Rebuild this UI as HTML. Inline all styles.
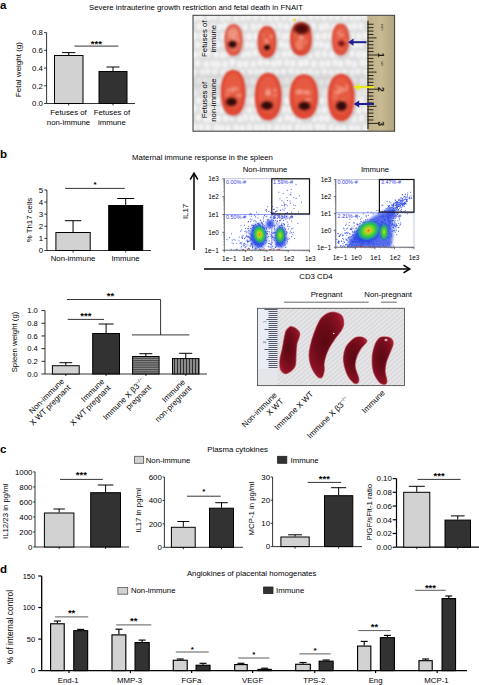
<!DOCTYPE html><html><head><meta charset="utf-8"><style>html,body{margin:0;padding:0;background:#fff;}svg{display:block;}</style></head><body>
<svg width="479" height="685" viewBox="0 0 479 685" font-family='"Liberation Sans", sans-serif'>
<defs>
<linearGradient id="paper" x1="0" y1="0" x2="0" y2="1"><stop offset="0" stop-color="#e2e2e2"/><stop offset="0.5" stop-color="#d8d8d8"/><stop offset="1" stop-color="#e0e0e0"/></linearGradient>
<radialGradient id="fet" cx="0.5" cy="0.5" r="0.5"><stop offset="0" stop-color="#dc3c28"/><stop offset="0.55" stop-color="#e24a34"/><stop offset="0.85" stop-color="#ec6a52"/><stop offset="1" stop-color="#f09a88"/></radialGradient>
<radialGradient id="spot" cx="0.5" cy="0.5" r="0.5"><stop offset="0" stop-color="#1e0808"/><stop offset="0.6" stop-color="#4a1010"/><stop offset="1" stop-color="#a02818" stop-opacity="0"/></radialGradient>
<radialGradient id="darkspot" cx="0.5" cy="0.5" r="0.5"><stop offset="0" stop-color="#3a0808"/><stop offset="0.6" stop-color="#6a1410"/><stop offset="1" stop-color="#b02818" stop-opacity="0"/></radialGradient>
<linearGradient id="ruler" x1="0" y1="0" x2="1" y2="0"><stop offset="0" stop-color="#beb08a"/><stop offset="0.5" stop-color="#c8ba92"/><stop offset="1" stop-color="#b2a47c"/></linearGradient>
<radialGradient id="fcore" cx="0.5" cy="0.5" r="0.5"><stop offset="0" stop-color="#e86020"/><stop offset="0.15" stop-color="#e8c020"/><stop offset="0.35" stop-color="#90d828"/><stop offset="0.6" stop-color="#30c840"/><stop offset="0.85" stop-color="#20a8a0" stop-opacity="0.7"/><stop offset="1" stop-color="#2848e0" stop-opacity="0"/></radialGradient>
<pattern id="hstripe" width="4" height="1.8" patternUnits="userSpaceOnUse"><rect width="4" height="1.8" fill="#8a8a8a"/><rect width="4" height="0.9" fill="#4a4a4a"/></pattern>
<pattern id="vstripe" width="3" height="4" patternUnits="userSpaceOnUse"><rect width="3" height="4" fill="#8c8c8c"/><rect width="1" height="4" fill="#2e2e2e"/></pattern>
<pattern id="stripes" width="3.4" height="3.4" patternUnits="userSpaceOnUse" patternTransform="rotate(-40)"><rect width="3.4" height="3.4" fill="#e6e6e8"/><rect width="3.4" height="1.4" fill="#d8d8dc"/></pattern>
<radialGradient id="spl" cx="0.45" cy="0.45" r="0.6"><stop offset="0" stop-color="#5a0812"/><stop offset="0.5" stop-color="#700c1a"/><stop offset="0.85" stop-color="#8a1222"/><stop offset="1" stop-color="#a41c2e"/></radialGradient>
<filter id="bl1" x="-10%" y="-10%" width="120%" height="120%"><feGaussianBlur stdDeviation="1"/></filter>
<filter id="bl05" x="-20%" y="-20%" width="140%" height="140%"><feGaussianBlur stdDeviation="0.6"/></filter>
<radialGradient id="spot2" cx="0.5" cy="0.5" r="0.5"><stop offset="0" stop-color="#6a1410"/><stop offset="0.6" stop-color="#901c14"/><stop offset="1" stop-color="#c03020" stop-opacity="0"/></radialGradient>
<filter id="bl15" x="-30%" y="-30%" width="160%" height="160%"><feGaussianBlur stdDeviation="1.5"/></filter>
<radialGradient id="fcore2" cx="0.5" cy="0.5" r="0.5"><stop offset="0" stop-color="#b8e020"/><stop offset="0.35" stop-color="#50d030"/><stop offset="0.7" stop-color="#20b070" stop-opacity="0.8"/><stop offset="1" stop-color="#2848e0" stop-opacity="0"/></radialGradient>

<filter id="bl07" x="-20%" y="-20%" width="140%" height="140%"><feGaussianBlur stdDeviation="0.8"/></filter>

</defs>
<rect width="479" height="685" fill="#fff"/>
<text x="0.00" y="9.40" font-size="11.5" text-anchor="start" fill="#000" font-weight="bold">a</text>
<text x="196.00" y="9.80" font-size="7.8" text-anchor="middle" fill="#000">Severe intrauterine growth restriction and fetal death in FNAIT</text>
<line x1="46.60" y1="32.60" x2="46.60" y2="103.50" stroke="#000" stroke-width="0.8"/>
<line x1="44.10" y1="32.60" x2="46.60" y2="32.60" stroke="#000" stroke-width="0.8"/>
<text x="42.90" y="35.41" font-size="7.8" text-anchor="end" fill="#000">0.8</text>
<line x1="44.10" y1="50.33" x2="46.60" y2="50.33" stroke="#000" stroke-width="0.8"/>
<text x="42.90" y="53.13" font-size="7.8" text-anchor="end" fill="#000">0.6</text>
<line x1="44.10" y1="68.05" x2="46.60" y2="68.05" stroke="#000" stroke-width="0.8"/>
<text x="42.90" y="70.86" font-size="7.8" text-anchor="end" fill="#000">0.4</text>
<line x1="44.10" y1="85.78" x2="46.60" y2="85.78" stroke="#000" stroke-width="0.8"/>
<text x="42.90" y="88.58" font-size="7.8" text-anchor="end" fill="#000">0.2</text>
<line x1="44.10" y1="103.50" x2="46.60" y2="103.50" stroke="#000" stroke-width="0.8"/>
<text x="42.90" y="106.31" font-size="7.8" text-anchor="end" fill="#000">0.0</text>
<line x1="46.60" y1="103.50" x2="135.00" y2="103.50" stroke="#000" stroke-width="0.8"/>
<line x1="68.75" y1="55.00" x2="68.75" y2="52.60" stroke="#000" stroke-width="1.0"/>
<line x1="62.11" y1="52.60" x2="75.39" y2="52.60" stroke="#000" stroke-width="1.0"/>
<rect x="54.50" y="55.50" width="28.50" height="48.00" fill="#d2d2d2" stroke="#000" stroke-width="1.0"/>
<line x1="113.00" y1="71.00" x2="113.00" y2="67.00" stroke="#000" stroke-width="1.0"/>
<line x1="106.47" y1="67.00" x2="119.53" y2="67.00" stroke="#000" stroke-width="1.0"/>
<rect x="99.00" y="71.50" width="28.00" height="32.00" fill="#323232" stroke="#000" stroke-width="1.0"/>
<line x1="74.40" y1="46.10" x2="118.30" y2="46.10" stroke="#000" stroke-width="0.8"/>
<text x="96.35" y="46.51" font-size="9.5" text-anchor="middle" fill="#000" font-weight="bold">***</text>
<text x="21.20" y="69.60" font-size="8.0" text-anchor="middle" fill="#000" transform="rotate(-90 21.2 69.6)">Fetal weight (g)</text>
<text x="68.50" y="115.00" font-size="7.8" text-anchor="middle" fill="#000">Fetuses of</text>
<text x="68.50" y="124.50" font-size="7.8" text-anchor="middle" fill="#000">non-immune</text>
<text x="111.90" y="115.00" font-size="7.8" text-anchor="middle" fill="#000">Fetuses of</text>
<text x="111.90" y="124.50" font-size="7.8" text-anchor="middle" fill="#000">immune</text>
<line x1="68.70" y1="103.50" x2="68.70" y2="105.50" stroke="#000" stroke-width="0.8"/>
<line x1="113.00" y1="103.50" x2="113.00" y2="105.50" stroke="#000" stroke-width="0.8"/>
<g>
<rect x="193.00" y="15.30" width="174.30" height="115.90" fill="#dedede" stroke="none" stroke-width="0.8"/>
<g filter="url(#bl1)" opacity="0.8"><ellipse cx="194.9" cy="17.4" rx="2.9" ry="3.6" fill="#f7f7f7"/><ellipse cx="199.2" cy="26.4" rx="2.9" ry="3.6" fill="#f7f7f7"/><ellipse cx="195.0" cy="35.9" rx="2.9" ry="3.6" fill="#f7f7f7"/><ellipse cx="197.8" cy="44.9" rx="2.9" ry="3.6" fill="#f7f7f7"/><ellipse cx="195.3" cy="54.7" rx="2.9" ry="3.6" fill="#f7f7f7"/><ellipse cx="197.6" cy="62.9" rx="2.9" ry="3.6" fill="#f7f7f7"/><ellipse cx="194.2" cy="73.1" rx="2.9" ry="3.6" fill="#f7f7f7"/><ellipse cx="198.8" cy="80.8" rx="2.9" ry="3.6" fill="#f7f7f7"/><ellipse cx="196.0" cy="91.8" rx="2.9" ry="3.6" fill="#f7f7f7"/><ellipse cx="198.7" cy="100.3" rx="2.9" ry="3.6" fill="#f7f7f7"/><ellipse cx="194.3" cy="108.3" rx="2.9" ry="3.6" fill="#f7f7f7"/><ellipse cx="198.5" cy="117.6" rx="2.9" ry="3.6" fill="#f7f7f7"/><ellipse cx="194.4" cy="127.2" rx="2.9" ry="3.6" fill="#f7f7f7"/><ellipse cx="200.9" cy="17.2" rx="2.9" ry="3.6" fill="#f7f7f7"/><ellipse cx="205.1" cy="27.2" rx="2.9" ry="3.6" fill="#f7f7f7"/><ellipse cx="201.8" cy="36.0" rx="2.9" ry="3.6" fill="#f7f7f7"/><ellipse cx="205.2" cy="45.2" rx="2.9" ry="3.6" fill="#f7f7f7"/><ellipse cx="201.7" cy="53.7" rx="2.9" ry="3.6" fill="#f7f7f7"/><ellipse cx="206.2" cy="64.3" rx="2.9" ry="3.6" fill="#f7f7f7"/><ellipse cx="202.5" cy="72.9" rx="2.9" ry="3.6" fill="#f7f7f7"/><ellipse cx="204.8" cy="81.2" rx="2.9" ry="3.6" fill="#f7f7f7"/><ellipse cx="201.4" cy="90.0" rx="2.9" ry="3.6" fill="#f7f7f7"/><ellipse cx="205.7" cy="99.9" rx="2.9" ry="3.6" fill="#f7f7f7"/><ellipse cx="202.5" cy="109.1" rx="2.9" ry="3.6" fill="#f7f7f7"/><ellipse cx="206.1" cy="119.2" rx="2.9" ry="3.6" fill="#f7f7f7"/><ellipse cx="200.8" cy="127.1" rx="2.9" ry="3.6" fill="#f7f7f7"/><ellipse cx="209.4" cy="17.2" rx="2.9" ry="3.6" fill="#f7f7f7"/><ellipse cx="213.0" cy="26.3" rx="2.9" ry="3.6" fill="#f7f7f7"/><ellipse cx="207.7" cy="36.0" rx="2.9" ry="3.6" fill="#f7f7f7"/><ellipse cx="212.6" cy="44.4" rx="2.9" ry="3.6" fill="#f7f7f7"/><ellipse cx="207.8" cy="53.8" rx="2.9" ry="3.6" fill="#f7f7f7"/><ellipse cx="212.9" cy="63.8" rx="2.9" ry="3.6" fill="#f7f7f7"/><ellipse cx="207.8" cy="72.0" rx="2.9" ry="3.6" fill="#f7f7f7"/><ellipse cx="211.2" cy="80.8" rx="2.9" ry="3.6" fill="#f7f7f7"/><ellipse cx="209.2" cy="90.3" rx="2.9" ry="3.6" fill="#f7f7f7"/><ellipse cx="212.1" cy="100.0" rx="2.9" ry="3.6" fill="#f7f7f7"/><ellipse cx="208.0" cy="109.8" rx="2.9" ry="3.6" fill="#f7f7f7"/><ellipse cx="211.3" cy="118.8" rx="2.9" ry="3.6" fill="#f7f7f7"/><ellipse cx="207.8" cy="127.5" rx="2.9" ry="3.6" fill="#f7f7f7"/><ellipse cx="214.8" cy="16.8" rx="2.9" ry="3.6" fill="#f7f7f7"/><ellipse cx="219.7" cy="27.1" rx="2.9" ry="3.6" fill="#f7f7f7"/><ellipse cx="215.0" cy="36.5" rx="2.9" ry="3.6" fill="#f7f7f7"/><ellipse cx="218.2" cy="44.7" rx="2.9" ry="3.6" fill="#f7f7f7"/><ellipse cx="216.1" cy="54.4" rx="2.9" ry="3.6" fill="#f7f7f7"/><ellipse cx="218.0" cy="64.3" rx="2.9" ry="3.6" fill="#f7f7f7"/><ellipse cx="214.8" cy="72.0" rx="2.9" ry="3.6" fill="#f7f7f7"/><ellipse cx="219.3" cy="81.4" rx="2.9" ry="3.6" fill="#f7f7f7"/><ellipse cx="215.0" cy="90.0" rx="2.9" ry="3.6" fill="#f7f7f7"/><ellipse cx="218.0" cy="100.3" rx="2.9" ry="3.6" fill="#f7f7f7"/><ellipse cx="214.9" cy="109.5" rx="2.9" ry="3.6" fill="#f7f7f7"/><ellipse cx="218.5" cy="118.4" rx="2.9" ry="3.6" fill="#f7f7f7"/><ellipse cx="216.3" cy="127.7" rx="2.9" ry="3.6" fill="#f7f7f7"/><ellipse cx="222.3" cy="18.0" rx="2.9" ry="3.6" fill="#f7f7f7"/><ellipse cx="225.0" cy="25.8" rx="2.9" ry="3.6" fill="#f7f7f7"/><ellipse cx="223.0" cy="36.3" rx="2.9" ry="3.6" fill="#f7f7f7"/><ellipse cx="225.1" cy="44.3" rx="2.9" ry="3.6" fill="#f7f7f7"/><ellipse cx="222.7" cy="55.0" rx="2.9" ry="3.6" fill="#f7f7f7"/><ellipse cx="225.0" cy="64.2" rx="2.9" ry="3.6" fill="#f7f7f7"/><ellipse cx="223.0" cy="72.7" rx="2.9" ry="3.6" fill="#f7f7f7"/><ellipse cx="225.4" cy="80.9" rx="2.9" ry="3.6" fill="#f7f7f7"/><ellipse cx="221.3" cy="91.8" rx="2.9" ry="3.6" fill="#f7f7f7"/><ellipse cx="225.1" cy="100.5" rx="2.9" ry="3.6" fill="#f7f7f7"/><ellipse cx="221.7" cy="109.9" rx="2.9" ry="3.6" fill="#f7f7f7"/><ellipse cx="225.8" cy="118.1" rx="2.9" ry="3.6" fill="#f7f7f7"/><ellipse cx="221.6" cy="128.1" rx="2.9" ry="3.6" fill="#f7f7f7"/><ellipse cx="228.1" cy="16.8" rx="2.9" ry="3.6" fill="#f7f7f7"/><ellipse cx="232.5" cy="27.2" rx="2.9" ry="3.6" fill="#f7f7f7"/><ellipse cx="229.2" cy="35.3" rx="2.9" ry="3.6" fill="#f7f7f7"/><ellipse cx="233.2" cy="44.3" rx="2.9" ry="3.6" fill="#f7f7f7"/><ellipse cx="228.0" cy="53.6" rx="2.9" ry="3.6" fill="#f7f7f7"/><ellipse cx="232.3" cy="62.4" rx="2.9" ry="3.6" fill="#f7f7f7"/><ellipse cx="228.4" cy="72.2" rx="2.9" ry="3.6" fill="#f7f7f7"/><ellipse cx="232.5" cy="81.0" rx="2.9" ry="3.6" fill="#f7f7f7"/><ellipse cx="228.7" cy="91.7" rx="2.9" ry="3.6" fill="#f7f7f7"/><ellipse cx="233.4" cy="100.4" rx="2.9" ry="3.6" fill="#f7f7f7"/><ellipse cx="229.4" cy="109.5" rx="2.9" ry="3.6" fill="#f7f7f7"/><ellipse cx="231.7" cy="117.6" rx="2.9" ry="3.6" fill="#f7f7f7"/><ellipse cx="228.0" cy="128.5" rx="2.9" ry="3.6" fill="#f7f7f7"/><ellipse cx="236.2" cy="18.2" rx="2.9" ry="3.6" fill="#f7f7f7"/><ellipse cx="238.2" cy="26.8" rx="2.9" ry="3.6" fill="#f7f7f7"/><ellipse cx="235.8" cy="36.2" rx="2.9" ry="3.6" fill="#f7f7f7"/><ellipse cx="238.8" cy="45.9" rx="2.9" ry="3.6" fill="#f7f7f7"/><ellipse cx="235.0" cy="54.2" rx="2.9" ry="3.6" fill="#f7f7f7"/><ellipse cx="239.7" cy="64.1" rx="2.9" ry="3.6" fill="#f7f7f7"/><ellipse cx="236.3" cy="72.9" rx="2.9" ry="3.6" fill="#f7f7f7"/><ellipse cx="239.8" cy="82.5" rx="2.9" ry="3.6" fill="#f7f7f7"/><ellipse cx="235.5" cy="91.3" rx="2.9" ry="3.6" fill="#f7f7f7"/><ellipse cx="240.0" cy="100.8" rx="2.9" ry="3.6" fill="#f7f7f7"/><ellipse cx="235.6" cy="109.9" rx="2.9" ry="3.6" fill="#f7f7f7"/><ellipse cx="239.9" cy="118.6" rx="2.9" ry="3.6" fill="#f7f7f7"/><ellipse cx="236.0" cy="127.5" rx="2.9" ry="3.6" fill="#f7f7f7"/><ellipse cx="242.8" cy="17.5" rx="2.9" ry="3.6" fill="#f7f7f7"/><ellipse cx="245.2" cy="26.8" rx="2.9" ry="3.6" fill="#f7f7f7"/><ellipse cx="243.6" cy="36.5" rx="2.9" ry="3.6" fill="#f7f7f7"/><ellipse cx="246.5" cy="44.7" rx="2.9" ry="3.6" fill="#f7f7f7"/><ellipse cx="243.1" cy="54.3" rx="2.9" ry="3.6" fill="#f7f7f7"/><ellipse cx="245.9" cy="64.0" rx="2.9" ry="3.6" fill="#f7f7f7"/><ellipse cx="241.8" cy="73.0" rx="2.9" ry="3.6" fill="#f7f7f7"/><ellipse cx="245.1" cy="81.9" rx="2.9" ry="3.6" fill="#f7f7f7"/><ellipse cx="242.6" cy="90.4" rx="2.9" ry="3.6" fill="#f7f7f7"/><ellipse cx="246.4" cy="100.1" rx="2.9" ry="3.6" fill="#f7f7f7"/><ellipse cx="242.8" cy="110.1" rx="2.9" ry="3.6" fill="#f7f7f7"/><ellipse cx="245.5" cy="117.5" rx="2.9" ry="3.6" fill="#f7f7f7"/><ellipse cx="242.2" cy="128.1" rx="2.9" ry="3.6" fill="#f7f7f7"/><ellipse cx="248.8" cy="16.6" rx="2.9" ry="3.6" fill="#f7f7f7"/><ellipse cx="253.6" cy="26.8" rx="2.9" ry="3.6" fill="#f7f7f7"/><ellipse cx="249.3" cy="36.5" rx="2.9" ry="3.6" fill="#f7f7f7"/><ellipse cx="252.5" cy="45.2" rx="2.9" ry="3.6" fill="#f7f7f7"/><ellipse cx="248.8" cy="54.0" rx="2.9" ry="3.6" fill="#f7f7f7"/><ellipse cx="253.4" cy="64.1" rx="2.9" ry="3.6" fill="#f7f7f7"/><ellipse cx="250.2" cy="72.3" rx="2.9" ry="3.6" fill="#f7f7f7"/><ellipse cx="253.0" cy="81.3" rx="2.9" ry="3.6" fill="#f7f7f7"/><ellipse cx="248.7" cy="90.9" rx="2.9" ry="3.6" fill="#f7f7f7"/><ellipse cx="253.5" cy="100.8" rx="2.9" ry="3.6" fill="#f7f7f7"/><ellipse cx="249.8" cy="110.2" rx="2.9" ry="3.6" fill="#f7f7f7"/><ellipse cx="252.4" cy="117.8" rx="2.9" ry="3.6" fill="#f7f7f7"/><ellipse cx="249.3" cy="127.3" rx="2.9" ry="3.6" fill="#f7f7f7"/><ellipse cx="255.6" cy="17.1" rx="2.9" ry="3.6" fill="#f7f7f7"/><ellipse cx="259.9" cy="26.5" rx="2.9" ry="3.6" fill="#f7f7f7"/><ellipse cx="255.8" cy="36.4" rx="2.9" ry="3.6" fill="#f7f7f7"/><ellipse cx="260.6" cy="44.8" rx="2.9" ry="3.6" fill="#f7f7f7"/><ellipse cx="255.3" cy="53.2" rx="2.9" ry="3.6" fill="#f7f7f7"/><ellipse cx="260.3" cy="62.4" rx="2.9" ry="3.6" fill="#f7f7f7"/><ellipse cx="256.6" cy="72.6" rx="2.9" ry="3.6" fill="#f7f7f7"/><ellipse cx="259.2" cy="82.3" rx="2.9" ry="3.6" fill="#f7f7f7"/><ellipse cx="255.2" cy="90.2" rx="2.9" ry="3.6" fill="#f7f7f7"/><ellipse cx="259.5" cy="99.1" rx="2.9" ry="3.6" fill="#f7f7f7"/><ellipse cx="256.9" cy="108.8" rx="2.9" ry="3.6" fill="#f7f7f7"/><ellipse cx="258.9" cy="117.6" rx="2.9" ry="3.6" fill="#f7f7f7"/><ellipse cx="256.5" cy="127.6" rx="2.9" ry="3.6" fill="#f7f7f7"/><ellipse cx="263.3" cy="17.6" rx="2.9" ry="3.6" fill="#f7f7f7"/><ellipse cx="267.0" cy="27.4" rx="2.9" ry="3.6" fill="#f7f7f7"/><ellipse cx="263.4" cy="35.1" rx="2.9" ry="3.6" fill="#f7f7f7"/><ellipse cx="266.4" cy="44.3" rx="2.9" ry="3.6" fill="#f7f7f7"/><ellipse cx="262.0" cy="54.0" rx="2.9" ry="3.6" fill="#f7f7f7"/><ellipse cx="266.8" cy="62.7" rx="2.9" ry="3.6" fill="#f7f7f7"/><ellipse cx="262.5" cy="72.2" rx="2.9" ry="3.6" fill="#f7f7f7"/><ellipse cx="266.8" cy="81.7" rx="2.9" ry="3.6" fill="#f7f7f7"/><ellipse cx="263.2" cy="91.4" rx="2.9" ry="3.6" fill="#f7f7f7"/><ellipse cx="266.2" cy="100.7" rx="2.9" ry="3.6" fill="#f7f7f7"/><ellipse cx="263.8" cy="108.5" rx="2.9" ry="3.6" fill="#f7f7f7"/><ellipse cx="267.3" cy="118.9" rx="2.9" ry="3.6" fill="#f7f7f7"/><ellipse cx="262.3" cy="127.6" rx="2.9" ry="3.6" fill="#f7f7f7"/><ellipse cx="270.1" cy="18.1" rx="2.9" ry="3.6" fill="#f7f7f7"/><ellipse cx="273.0" cy="26.6" rx="2.9" ry="3.6" fill="#f7f7f7"/><ellipse cx="270.6" cy="36.3" rx="2.9" ry="3.6" fill="#f7f7f7"/><ellipse cx="274.1" cy="44.8" rx="2.9" ry="3.6" fill="#f7f7f7"/><ellipse cx="270.1" cy="53.5" rx="2.9" ry="3.6" fill="#f7f7f7"/><ellipse cx="273.6" cy="63.9" rx="2.9" ry="3.6" fill="#f7f7f7"/><ellipse cx="270.1" cy="72.9" rx="2.9" ry="3.6" fill="#f7f7f7"/><ellipse cx="272.6" cy="82.5" rx="2.9" ry="3.6" fill="#f7f7f7"/><ellipse cx="270.8" cy="91.9" rx="2.9" ry="3.6" fill="#f7f7f7"/><ellipse cx="273.3" cy="100.7" rx="2.9" ry="3.6" fill="#f7f7f7"/><ellipse cx="269.4" cy="110.1" rx="2.9" ry="3.6" fill="#f7f7f7"/><ellipse cx="273.9" cy="118.2" rx="2.9" ry="3.6" fill="#f7f7f7"/><ellipse cx="269.0" cy="127.6" rx="2.9" ry="3.6" fill="#f7f7f7"/><ellipse cx="276.7" cy="17.8" rx="2.9" ry="3.6" fill="#f7f7f7"/><ellipse cx="280.0" cy="25.6" rx="2.9" ry="3.6" fill="#f7f7f7"/><ellipse cx="277.2" cy="34.8" rx="2.9" ry="3.6" fill="#f7f7f7"/><ellipse cx="280.6" cy="44.2" rx="2.9" ry="3.6" fill="#f7f7f7"/><ellipse cx="276.3" cy="54.7" rx="2.9" ry="3.6" fill="#f7f7f7"/><ellipse cx="279.3" cy="62.6" rx="2.9" ry="3.6" fill="#f7f7f7"/><ellipse cx="276.6" cy="72.9" rx="2.9" ry="3.6" fill="#f7f7f7"/><ellipse cx="280.7" cy="82.1" rx="2.9" ry="3.6" fill="#f7f7f7"/><ellipse cx="277.5" cy="90.9" rx="2.9" ry="3.6" fill="#f7f7f7"/><ellipse cx="280.9" cy="99.3" rx="2.9" ry="3.6" fill="#f7f7f7"/><ellipse cx="276.0" cy="109.4" rx="2.9" ry="3.6" fill="#f7f7f7"/><ellipse cx="279.6" cy="119.0" rx="2.9" ry="3.6" fill="#f7f7f7"/><ellipse cx="276.9" cy="127.7" rx="2.9" ry="3.6" fill="#f7f7f7"/><ellipse cx="284.1" cy="17.4" rx="2.9" ry="3.6" fill="#f7f7f7"/><ellipse cx="286.4" cy="26.3" rx="2.9" ry="3.6" fill="#f7f7f7"/><ellipse cx="284.1" cy="36.5" rx="2.9" ry="3.6" fill="#f7f7f7"/><ellipse cx="286.2" cy="45.6" rx="2.9" ry="3.6" fill="#f7f7f7"/><ellipse cx="284.3" cy="54.1" rx="2.9" ry="3.6" fill="#f7f7f7"/><ellipse cx="286.9" cy="62.7" rx="2.9" ry="3.6" fill="#f7f7f7"/><ellipse cx="283.5" cy="72.5" rx="2.9" ry="3.6" fill="#f7f7f7"/><ellipse cx="287.0" cy="80.8" rx="2.9" ry="3.6" fill="#f7f7f7"/><ellipse cx="284.3" cy="90.9" rx="2.9" ry="3.6" fill="#f7f7f7"/><ellipse cx="286.6" cy="100.7" rx="2.9" ry="3.6" fill="#f7f7f7"/><ellipse cx="283.5" cy="109.3" rx="2.9" ry="3.6" fill="#f7f7f7"/><ellipse cx="287.2" cy="117.6" rx="2.9" ry="3.6" fill="#f7f7f7"/><ellipse cx="283.5" cy="127.5" rx="2.9" ry="3.6" fill="#f7f7f7"/><ellipse cx="291.1" cy="18.1" rx="2.9" ry="3.6" fill="#f7f7f7"/><ellipse cx="293.1" cy="26.4" rx="2.9" ry="3.6" fill="#f7f7f7"/><ellipse cx="289.5" cy="35.6" rx="2.9" ry="3.6" fill="#f7f7f7"/><ellipse cx="294.2" cy="45.7" rx="2.9" ry="3.6" fill="#f7f7f7"/><ellipse cx="290.2" cy="53.7" rx="2.9" ry="3.6" fill="#f7f7f7"/><ellipse cx="293.0" cy="63.5" rx="2.9" ry="3.6" fill="#f7f7f7"/><ellipse cx="291.1" cy="71.8" rx="2.9" ry="3.6" fill="#f7f7f7"/><ellipse cx="294.2" cy="80.7" rx="2.9" ry="3.6" fill="#f7f7f7"/><ellipse cx="289.6" cy="90.4" rx="2.9" ry="3.6" fill="#f7f7f7"/><ellipse cx="294.0" cy="99.7" rx="2.9" ry="3.6" fill="#f7f7f7"/><ellipse cx="289.9" cy="109.5" rx="2.9" ry="3.6" fill="#f7f7f7"/><ellipse cx="292.8" cy="119.0" rx="2.9" ry="3.6" fill="#f7f7f7"/><ellipse cx="289.4" cy="127.7" rx="2.9" ry="3.6" fill="#f7f7f7"/><ellipse cx="296.5" cy="16.7" rx="2.9" ry="3.6" fill="#f7f7f7"/><ellipse cx="300.5" cy="26.4" rx="2.9" ry="3.6" fill="#f7f7f7"/><ellipse cx="296.8" cy="35.5" rx="2.9" ry="3.6" fill="#f7f7f7"/><ellipse cx="300.5" cy="44.2" rx="2.9" ry="3.6" fill="#f7f7f7"/><ellipse cx="296.4" cy="54.4" rx="2.9" ry="3.6" fill="#f7f7f7"/><ellipse cx="300.7" cy="63.4" rx="2.9" ry="3.6" fill="#f7f7f7"/><ellipse cx="297.7" cy="72.7" rx="2.9" ry="3.6" fill="#f7f7f7"/><ellipse cx="301.1" cy="81.2" rx="2.9" ry="3.6" fill="#f7f7f7"/><ellipse cx="297.5" cy="91.5" rx="2.9" ry="3.6" fill="#f7f7f7"/><ellipse cx="301.2" cy="99.7" rx="2.9" ry="3.6" fill="#f7f7f7"/><ellipse cx="296.6" cy="110.1" rx="2.9" ry="3.6" fill="#f7f7f7"/><ellipse cx="299.8" cy="119.5" rx="2.9" ry="3.6" fill="#f7f7f7"/><ellipse cx="297.8" cy="127.0" rx="2.9" ry="3.6" fill="#f7f7f7"/><ellipse cx="303.3" cy="17.8" rx="2.9" ry="3.6" fill="#f7f7f7"/><ellipse cx="306.7" cy="25.7" rx="2.9" ry="3.6" fill="#f7f7f7"/><ellipse cx="304.5" cy="35.5" rx="2.9" ry="3.6" fill="#f7f7f7"/><ellipse cx="307.8" cy="44.2" rx="2.9" ry="3.6" fill="#f7f7f7"/><ellipse cx="303.6" cy="54.5" rx="2.9" ry="3.6" fill="#f7f7f7"/><ellipse cx="306.2" cy="62.7" rx="2.9" ry="3.6" fill="#f7f7f7"/><ellipse cx="304.2" cy="73.3" rx="2.9" ry="3.6" fill="#f7f7f7"/><ellipse cx="308.1" cy="80.9" rx="2.9" ry="3.6" fill="#f7f7f7"/><ellipse cx="303.8" cy="91.4" rx="2.9" ry="3.6" fill="#f7f7f7"/><ellipse cx="307.2" cy="100.5" rx="2.9" ry="3.6" fill="#f7f7f7"/><ellipse cx="303.2" cy="108.4" rx="2.9" ry="3.6" fill="#f7f7f7"/><ellipse cx="306.4" cy="117.6" rx="2.9" ry="3.6" fill="#f7f7f7"/><ellipse cx="303.9" cy="127.7" rx="2.9" ry="3.6" fill="#f7f7f7"/><ellipse cx="310.7" cy="16.6" rx="2.9" ry="3.6" fill="#f7f7f7"/><ellipse cx="313.4" cy="25.9" rx="2.9" ry="3.6" fill="#f7f7f7"/><ellipse cx="311.3" cy="36.7" rx="2.9" ry="3.6" fill="#f7f7f7"/><ellipse cx="314.9" cy="44.1" rx="2.9" ry="3.6" fill="#f7f7f7"/><ellipse cx="309.7" cy="55.0" rx="2.9" ry="3.6" fill="#f7f7f7"/><ellipse cx="313.9" cy="63.8" rx="2.9" ry="3.6" fill="#f7f7f7"/><ellipse cx="310.3" cy="72.4" rx="2.9" ry="3.6" fill="#f7f7f7"/><ellipse cx="314.0" cy="81.6" rx="2.9" ry="3.6" fill="#f7f7f7"/><ellipse cx="310.8" cy="89.9" rx="2.9" ry="3.6" fill="#f7f7f7"/><ellipse cx="314.4" cy="100.8" rx="2.9" ry="3.6" fill="#f7f7f7"/><ellipse cx="310.0" cy="109.2" rx="2.9" ry="3.6" fill="#f7f7f7"/><ellipse cx="314.5" cy="118.3" rx="2.9" ry="3.6" fill="#f7f7f7"/><ellipse cx="310.0" cy="127.0" rx="2.9" ry="3.6" fill="#f7f7f7"/><ellipse cx="317.4" cy="16.3" rx="2.9" ry="3.6" fill="#f7f7f7"/><ellipse cx="321.6" cy="27.1" rx="2.9" ry="3.6" fill="#f7f7f7"/><ellipse cx="317.8" cy="36.4" rx="2.9" ry="3.6" fill="#f7f7f7"/><ellipse cx="321.1" cy="44.7" rx="2.9" ry="3.6" fill="#f7f7f7"/><ellipse cx="317.6" cy="54.1" rx="2.9" ry="3.6" fill="#f7f7f7"/><ellipse cx="321.8" cy="63.9" rx="2.9" ry="3.6" fill="#f7f7f7"/><ellipse cx="316.9" cy="73.3" rx="2.9" ry="3.6" fill="#f7f7f7"/><ellipse cx="321.3" cy="82.3" rx="2.9" ry="3.6" fill="#f7f7f7"/><ellipse cx="318.0" cy="90.7" rx="2.9" ry="3.6" fill="#f7f7f7"/><ellipse cx="321.6" cy="100.9" rx="2.9" ry="3.6" fill="#f7f7f7"/><ellipse cx="317.8" cy="109.8" rx="2.9" ry="3.6" fill="#f7f7f7"/><ellipse cx="321.3" cy="118.3" rx="2.9" ry="3.6" fill="#f7f7f7"/><ellipse cx="317.8" cy="126.8" rx="2.9" ry="3.6" fill="#f7f7f7"/><ellipse cx="323.9" cy="17.2" rx="2.9" ry="3.6" fill="#f7f7f7"/><ellipse cx="326.6" cy="26.2" rx="2.9" ry="3.6" fill="#f7f7f7"/><ellipse cx="324.5" cy="35.9" rx="2.9" ry="3.6" fill="#f7f7f7"/><ellipse cx="327.1" cy="45.8" rx="2.9" ry="3.6" fill="#f7f7f7"/><ellipse cx="324.5" cy="53.8" rx="2.9" ry="3.6" fill="#f7f7f7"/><ellipse cx="327.9" cy="63.4" rx="2.9" ry="3.6" fill="#f7f7f7"/><ellipse cx="324.3" cy="72.3" rx="2.9" ry="3.6" fill="#f7f7f7"/><ellipse cx="328.6" cy="82.0" rx="2.9" ry="3.6" fill="#f7f7f7"/><ellipse cx="324.6" cy="91.4" rx="2.9" ry="3.6" fill="#f7f7f7"/><ellipse cx="328.6" cy="99.1" rx="2.9" ry="3.6" fill="#f7f7f7"/><ellipse cx="324.4" cy="109.8" rx="2.9" ry="3.6" fill="#f7f7f7"/><ellipse cx="327.1" cy="118.3" rx="2.9" ry="3.6" fill="#f7f7f7"/><ellipse cx="323.3" cy="127.1" rx="2.9" ry="3.6" fill="#f7f7f7"/><ellipse cx="330.8" cy="16.5" rx="2.9" ry="3.6" fill="#f7f7f7"/><ellipse cx="333.9" cy="27.3" rx="2.9" ry="3.6" fill="#f7f7f7"/><ellipse cx="331.1" cy="35.7" rx="2.9" ry="3.6" fill="#f7f7f7"/><ellipse cx="335.3" cy="45.0" rx="2.9" ry="3.6" fill="#f7f7f7"/><ellipse cx="332.0" cy="54.4" rx="2.9" ry="3.6" fill="#f7f7f7"/><ellipse cx="335.0" cy="62.5" rx="2.9" ry="3.6" fill="#f7f7f7"/><ellipse cx="331.2" cy="73.0" rx="2.9" ry="3.6" fill="#f7f7f7"/><ellipse cx="333.5" cy="82.6" rx="2.9" ry="3.6" fill="#f7f7f7"/><ellipse cx="330.3" cy="90.8" rx="2.9" ry="3.6" fill="#f7f7f7"/><ellipse cx="333.7" cy="100.1" rx="2.9" ry="3.6" fill="#f7f7f7"/><ellipse cx="331.2" cy="108.4" rx="2.9" ry="3.6" fill="#f7f7f7"/><ellipse cx="335.3" cy="118.3" rx="2.9" ry="3.6" fill="#f7f7f7"/><ellipse cx="331.1" cy="127.9" rx="2.9" ry="3.6" fill="#f7f7f7"/><ellipse cx="337.5" cy="16.9" rx="2.9" ry="3.6" fill="#f7f7f7"/><ellipse cx="341.5" cy="26.6" rx="2.9" ry="3.6" fill="#f7f7f7"/><ellipse cx="337.4" cy="36.1" rx="2.9" ry="3.6" fill="#f7f7f7"/><ellipse cx="340.8" cy="43.9" rx="2.9" ry="3.6" fill="#f7f7f7"/><ellipse cx="337.3" cy="53.2" rx="2.9" ry="3.6" fill="#f7f7f7"/><ellipse cx="340.5" cy="63.8" rx="2.9" ry="3.6" fill="#f7f7f7"/><ellipse cx="337.6" cy="73.3" rx="2.9" ry="3.6" fill="#f7f7f7"/><ellipse cx="341.7" cy="80.8" rx="2.9" ry="3.6" fill="#f7f7f7"/><ellipse cx="338.8" cy="91.8" rx="2.9" ry="3.6" fill="#f7f7f7"/><ellipse cx="340.3" cy="100.9" rx="2.9" ry="3.6" fill="#f7f7f7"/><ellipse cx="337.7" cy="109.3" rx="2.9" ry="3.6" fill="#f7f7f7"/><ellipse cx="342.1" cy="118.0" rx="2.9" ry="3.6" fill="#f7f7f7"/><ellipse cx="337.8" cy="128.6" rx="2.9" ry="3.6" fill="#f7f7f7"/><ellipse cx="345.0" cy="17.2" rx="2.9" ry="3.6" fill="#f7f7f7"/><ellipse cx="349.0" cy="27.1" rx="2.9" ry="3.6" fill="#f7f7f7"/><ellipse cx="344.8" cy="34.9" rx="2.9" ry="3.6" fill="#f7f7f7"/><ellipse cx="348.2" cy="44.8" rx="2.9" ry="3.6" fill="#f7f7f7"/><ellipse cx="344.0" cy="53.2" rx="2.9" ry="3.6" fill="#f7f7f7"/><ellipse cx="348.1" cy="62.5" rx="2.9" ry="3.6" fill="#f7f7f7"/><ellipse cx="344.5" cy="72.8" rx="2.9" ry="3.6" fill="#f7f7f7"/><ellipse cx="347.9" cy="81.2" rx="2.9" ry="3.6" fill="#f7f7f7"/><ellipse cx="344.8" cy="90.7" rx="2.9" ry="3.6" fill="#f7f7f7"/><ellipse cx="348.6" cy="100.2" rx="2.9" ry="3.6" fill="#f7f7f7"/><ellipse cx="345.6" cy="110.2" rx="2.9" ry="3.6" fill="#f7f7f7"/><ellipse cx="348.5" cy="118.0" rx="2.9" ry="3.6" fill="#f7f7f7"/><ellipse cx="343.8" cy="128.5" rx="2.9" ry="3.6" fill="#f7f7f7"/><ellipse cx="352.0" cy="17.5" rx="2.9" ry="3.6" fill="#f7f7f7"/><ellipse cx="354.5" cy="26.0" rx="2.9" ry="3.6" fill="#f7f7f7"/><ellipse cx="351.8" cy="35.8" rx="2.9" ry="3.6" fill="#f7f7f7"/><ellipse cx="355.0" cy="45.2" rx="2.9" ry="3.6" fill="#f7f7f7"/><ellipse cx="351.9" cy="53.5" rx="2.9" ry="3.6" fill="#f7f7f7"/><ellipse cx="354.3" cy="64.3" rx="2.9" ry="3.6" fill="#f7f7f7"/><ellipse cx="352.2" cy="73.3" rx="2.9" ry="3.6" fill="#f7f7f7"/><ellipse cx="353.9" cy="80.8" rx="2.9" ry="3.6" fill="#f7f7f7"/><ellipse cx="350.9" cy="90.8" rx="2.9" ry="3.6" fill="#f7f7f7"/><ellipse cx="355.0" cy="99.3" rx="2.9" ry="3.6" fill="#f7f7f7"/><ellipse cx="351.5" cy="108.4" rx="2.9" ry="3.6" fill="#f7f7f7"/><ellipse cx="354.0" cy="118.9" rx="2.9" ry="3.6" fill="#f7f7f7"/><ellipse cx="351.5" cy="128.0" rx="2.9" ry="3.6" fill="#f7f7f7"/><ellipse cx="357.9" cy="17.3" rx="2.9" ry="3.6" fill="#f7f7f7"/><ellipse cx="361.0" cy="26.2" rx="2.9" ry="3.6" fill="#f7f7f7"/><ellipse cx="358.7" cy="36.4" rx="2.9" ry="3.6" fill="#f7f7f7"/><ellipse cx="360.7" cy="44.1" rx="2.9" ry="3.6" fill="#f7f7f7"/><ellipse cx="358.8" cy="54.3" rx="2.9" ry="3.6" fill="#f7f7f7"/><ellipse cx="362.1" cy="62.7" rx="2.9" ry="3.6" fill="#f7f7f7"/><ellipse cx="358.0" cy="72.0" rx="2.9" ry="3.6" fill="#f7f7f7"/><ellipse cx="362.2" cy="81.4" rx="2.9" ry="3.6" fill="#f7f7f7"/><ellipse cx="358.5" cy="91.9" rx="2.9" ry="3.6" fill="#f7f7f7"/><ellipse cx="361.3" cy="100.2" rx="2.9" ry="3.6" fill="#f7f7f7"/><ellipse cx="358.7" cy="110.1" rx="2.9" ry="3.6" fill="#f7f7f7"/><ellipse cx="361.5" cy="118.2" rx="2.9" ry="3.6" fill="#f7f7f7"/><ellipse cx="357.4" cy="128.5" rx="2.9" ry="3.6" fill="#f7f7f7"/><ellipse cx="364.2" cy="16.5" rx="2.9" ry="3.6" fill="#f7f7f7"/><ellipse cx="365.4" cy="35.3" rx="2.9" ry="3.6" fill="#f7f7f7"/><ellipse cx="364.4" cy="54.4" rx="2.9" ry="3.6" fill="#f7f7f7"/><ellipse cx="367.6" cy="62.9" rx="2.9" ry="3.6" fill="#f7f7f7"/><ellipse cx="365.4" cy="72.9" rx="2.9" ry="3.6" fill="#f7f7f7"/><ellipse cx="368.0" cy="81.0" rx="2.9" ry="3.6" fill="#f7f7f7"/><ellipse cx="364.7" cy="91.4" rx="2.9" ry="3.6" fill="#f7f7f7"/><ellipse cx="365.4" cy="109.4" rx="2.9" ry="3.6" fill="#f7f7f7"/><ellipse cx="365.8" cy="127.6" rx="2.9" ry="3.6" fill="#f7f7f7"/></g>
<rect x="194" y="73" width="173" height="21" fill="#bdb8b8" opacity="0.25" filter="url(#bl15)"/>
<g filter="url(#bl07)"><path d="M234.50 23.90 C240.95 23.90,244.90 30.47,244.90 41.20 C244.90 51.93,240.95 58.50,234.50 58.50 C228.05 58.50,224.10 51.93,224.10 41.20 C224.10 30.47,228.05 23.90,234.50 23.90Z" fill="#b8b0b0" opacity="0.4"/><path d="M233.50 24.00 C239.14 24.00,242.60 30.08,242.60 40.00 C242.60 49.92,239.14 56.00,233.50 56.00 C227.86 56.00,224.40 49.92,224.40 40.00 C224.40 30.08,227.86 24.00,233.50 24.00Z" fill="#e05a46"/><path d="M233.50 26.24 C237.56 26.24,240.05 30.98,240.05 38.72 C240.05 46.46,237.56 51.20,233.50 51.20 C229.44 51.20,226.95 46.46,226.95 38.72 C226.95 30.98,229.44 26.24,233.50 26.24Z" fill="#ec8470" opacity="0.7"/><ellipse cx="233.4" cy="38.8" rx="2.0" ry="1.6" fill="#f4a08c" opacity="0.46"/><ellipse cx="233.9" cy="39.3" rx="1.9" ry="1.4" fill="#f4a08c" opacity="0.48"/><ellipse cx="233.8" cy="40.5" rx="1.5" ry="1.6" fill="#f4a08c" opacity="0.36"/><ellipse cx="234.0" cy="37.7" rx="1.5" ry="1.4" fill="#f4a08c" opacity="0.35"/><ellipse cx="234.6" cy="32.0" rx="2.2" ry="1.6" fill="#f4a08c" opacity="0.35"/><ellipse cx="234.1" cy="35.3" rx="1.4" ry="1.7" fill="#f4a08c" opacity="0.36"/><ellipse cx="237.3" cy="39.2" rx="1.6" ry="2.0" fill="#f4a08c" opacity="0.52"/><ellipse cx="232.6" cy="33.6" rx="5.0" ry="4.8" fill="#f0a090" opacity="0.6"/><ellipse cx="232.5" cy="44.3" rx="6.0" ry="5.2" fill="url(#spot)"/></g>
<g filter="url(#bl07)"><path d="M268.00 25.80 C274.63 25.80,278.70 32.37,278.70 43.10 C278.70 53.83,274.63 60.40,268.00 60.40 C261.37 60.40,257.30 53.83,257.30 43.10 C257.30 32.37,261.37 25.80,268.00 25.80Z" fill="#b8b0b0" opacity="0.4"/><path d="M267.00 25.90 C272.83 25.90,276.40 31.98,276.40 41.90 C276.40 51.82,272.83 57.90,267.00 57.90 C261.17 57.90,257.60 51.82,257.60 41.90 C257.60 31.98,261.17 25.90,267.00 25.90Z" fill="#dc4834"/><path d="M267.00 28.14 C271.20 28.14,273.77 32.88,273.77 40.62 C273.77 48.36,271.20 53.10,267.00 53.10 C262.80 53.10,260.23 48.36,260.23 40.62 C260.23 32.88,262.80 28.14,267.00 28.14Z" fill="#e86248" opacity="0.7"/><ellipse cx="266.8" cy="47.0" rx="1.3" ry="1.3" fill="#f4a08c" opacity="0.36"/><ellipse cx="263.1" cy="34.7" rx="1.6" ry="1.3" fill="#f4a08c" opacity="0.33"/><ellipse cx="266.0" cy="45.4" rx="2.0" ry="2.1" fill="#f4a08c" opacity="0.46"/><ellipse cx="266.9" cy="41.8" rx="2.2" ry="2.2" fill="#f4a08c" opacity="0.42"/><ellipse cx="266.7" cy="41.2" rx="1.6" ry="2.1" fill="#f4a08c" opacity="0.57"/><ellipse cx="271.0" cy="36.4" rx="1.8" ry="2.2" fill="#f4a08c" opacity="0.59"/><ellipse cx="264.6" cy="38.6" rx="1.8" ry="1.9" fill="#f4a08c" opacity="0.32"/><ellipse cx="267.0" cy="47.5" rx="4.5" ry="4.2" fill="url(#spot)"/></g>
<g filter="url(#bl07)"><path d="M302.00 21.90 C309.63 21.90,314.30 28.82,314.30 40.10 C314.30 51.38,309.63 58.30,302.00 58.30 C294.37 58.30,289.70 51.38,289.70 40.10 C289.70 28.82,294.37 21.90,302.00 21.90Z" fill="#b8b0b0" opacity="0.4"/><path d="M301.00 22.00 C307.82 22.00,312.00 28.42,312.00 38.90 C312.00 49.38,307.82 55.80,301.00 55.80 C294.18 55.80,290.00 49.38,290.00 38.90 C290.00 28.42,294.18 22.00,301.00 22.00Z" fill="#dc4834"/><path d="M301.00 24.37 C305.91 24.37,308.92 29.38,308.92 37.55 C308.92 45.72,305.91 50.73,301.00 50.73 C296.09 50.73,293.08 45.72,293.08 37.55 C293.08 29.38,296.09 24.37,301.00 24.37Z" fill="#e86248" opacity="0.7"/><ellipse cx="301.7" cy="38.2" rx="2.6" ry="2.2" fill="#f4a08c" opacity="0.53"/><ellipse cx="299.1" cy="31.9" rx="1.7" ry="1.4" fill="#f4a08c" opacity="0.33"/><ellipse cx="300.6" cy="36.3" rx="2.1" ry="1.5" fill="#f4a08c" opacity="0.41"/><ellipse cx="305.5" cy="42.0" rx="2.7" ry="2.1" fill="#f4a08c" opacity="0.30"/><ellipse cx="296.2" cy="33.9" rx="2.0" ry="1.7" fill="#f4a08c" opacity="0.42"/><ellipse cx="301.7" cy="37.6" rx="1.9" ry="1.1" fill="#f4a08c" opacity="0.55"/><ellipse cx="300.8" cy="37.1" rx="2.4" ry="2.0" fill="#f4a08c" opacity="0.35"/><ellipse cx="301.6" cy="28.8" rx="10.4" ry="7.6" fill="url(#darkspot)"/><ellipse cx="299.4" cy="44.8" rx="3.8" ry="5.1" fill="#f5a890" opacity="0.45"/></g>
<g filter="url(#bl07)"><path d="M341.60 23.40 C347.86 23.40,351.70 30.01,351.70 40.80 C351.70 51.59,347.86 58.20,341.60 58.20 C335.34 58.20,331.50 51.59,331.50 40.80 C331.50 30.01,335.34 23.40,341.60 23.40Z" fill="#b8b0b0" opacity="0.4"/><path d="M340.60 23.50 C346.06 23.50,349.40 29.62,349.40 39.60 C349.40 49.58,346.06 55.70,340.60 55.70 C335.14 55.70,331.80 49.58,331.80 39.60 C331.80 29.62,335.14 23.50,340.60 23.50Z" fill="#de5240"/><path d="M340.60 25.75 C344.53 25.75,346.94 30.53,346.94 38.31 C346.94 46.10,344.53 50.87,340.60 50.87 C336.67 50.87,334.26 46.10,334.26 38.31 C334.26 30.53,336.67 25.75,340.60 25.75Z" fill="#e86248" opacity="0.7"/><ellipse cx="344.9" cy="40.7" rx="1.7" ry="1.6" fill="#f4a08c" opacity="0.41"/><ellipse cx="341.9" cy="31.1" rx="1.1" ry="1.0" fill="#f4a08c" opacity="0.50"/><ellipse cx="339.0" cy="36.8" rx="1.3" ry="1.9" fill="#f4a08c" opacity="0.38"/><ellipse cx="339.9" cy="30.8" rx="1.1" ry="1.2" fill="#f4a08c" opacity="0.43"/><ellipse cx="338.8" cy="33.0" rx="2.0" ry="1.6" fill="#f4a08c" opacity="0.57"/><ellipse cx="342.8" cy="35.0" rx="1.4" ry="1.4" fill="#f4a08c" opacity="0.59"/><ellipse cx="341.5" cy="35.2" rx="1.9" ry="1.8" fill="#f4a08c" opacity="0.55"/><ellipse cx="341.5" cy="43.5" rx="4.8" ry="4.2" fill="url(#spot2)"/></g>
<g filter="url(#bl07)"><path d="M234.20 69.70 C242.76 69.70,248.00 78.93,248.00 94.00 C248.00 109.07,242.76 118.30,234.20 118.30 C225.64 118.30,220.40 109.07,220.40 94.00 C220.40 78.93,225.64 69.70,234.20 69.70Z" fill="#b8b0b0" opacity="0.4"/><path d="M233.20 69.80 C240.95 69.80,245.70 78.54,245.70 92.80 C245.70 107.06,240.95 115.80,233.20 115.80 C225.45 115.80,220.70 107.06,220.70 92.80 C220.70 78.54,225.45 69.80,233.20 69.80Z" fill="#e04834"/><path d="M233.20 73.02 C238.78 73.02,242.20 79.84,242.20 90.96 C242.20 102.08,238.78 108.90,233.20 108.90 C227.62 108.90,224.20 102.08,224.20 90.96 C224.20 79.84,227.62 73.02,233.20 73.02Z" fill="#e86248" opacity="0.7"/><ellipse cx="233.2" cy="89.4" rx="2.8" ry="2.9" fill="#f4a08c" opacity="0.44"/><ellipse cx="228.9" cy="90.4" rx="2.9" ry="2.3" fill="#f4a08c" opacity="0.46"/><ellipse cx="232.8" cy="89.9" rx="1.7" ry="2.5" fill="#f4a08c" opacity="0.49"/><ellipse cx="227.4" cy="94.5" rx="2.7" ry="2.1" fill="#f4a08c" opacity="0.32"/><ellipse cx="235.6" cy="87.9" rx="2.3" ry="1.6" fill="#f4a08c" opacity="0.36"/><ellipse cx="237.1" cy="89.3" rx="2.0" ry="2.0" fill="#f4a08c" opacity="0.42"/><ellipse cx="239.0" cy="95.4" rx="2.9" ry="2.1" fill="#f4a08c" opacity="0.51"/><ellipse cx="231.4" cy="101.9" rx="7.5" ry="6.0" fill="url(#spot)"/></g>
<g filter="url(#bl07)"><path d="M269.20 72.70 C278.38 72.70,284.00 82.24,284.00 97.80 C284.00 113.36,278.38 122.90,269.20 122.90 C260.02 122.90,254.40 113.36,254.40 97.80 C254.40 82.24,260.02 72.70,269.20 72.70Z" fill="#b8b0b0" opacity="0.4"/><path d="M268.20 72.80 C276.57 72.80,281.70 81.84,281.70 96.60 C281.70 111.36,276.57 120.40,268.20 120.40 C259.83 120.40,254.70 111.36,254.70 96.60 C254.70 81.84,259.83 72.80,268.20 72.80Z" fill="#e04834"/><path d="M268.20 76.13 C274.23 76.13,277.92 83.19,277.92 94.70 C277.92 106.21,274.23 113.26,268.20 113.26 C262.17 113.26,258.48 106.21,258.48 94.70 C258.48 83.19,262.17 76.13,268.20 76.13Z" fill="#e86248" opacity="0.7"/><ellipse cx="275.1" cy="90.2" rx="2.0" ry="2.2" fill="#f4a08c" opacity="0.52"/><ellipse cx="268.0" cy="90.1" rx="2.5" ry="2.9" fill="#f4a08c" opacity="0.34"/><ellipse cx="274.8" cy="95.3" rx="2.4" ry="1.7" fill="#f4a08c" opacity="0.43"/><ellipse cx="268.1" cy="93.0" rx="2.9" ry="2.9" fill="#f4a08c" opacity="0.50"/><ellipse cx="267.8" cy="93.0" rx="2.7" ry="2.1" fill="#f4a08c" opacity="0.41"/><ellipse cx="269.0" cy="92.4" rx="2.3" ry="3.0" fill="#f4a08c" opacity="0.30"/><ellipse cx="268.3" cy="93.2" rx="1.9" ry="3.3" fill="#f4a08c" opacity="0.34"/><ellipse cx="266.9" cy="105.5" rx="8.2" ry="6.0" fill="url(#spot)"/></g>
<g filter="url(#bl07)"><path d="M304.90 74.20 C314.57 74.20,320.50 83.17,320.50 97.80 C320.50 112.43,314.57 121.40,304.90 121.40 C295.23 121.40,289.30 112.43,289.30 97.80 C289.30 83.17,295.23 74.20,304.90 74.20Z" fill="#b8b0b0" opacity="0.4"/><path d="M303.90 74.30 C312.77 74.30,318.20 82.77,318.20 96.60 C318.20 110.43,312.77 118.90,303.90 118.90 C295.03 118.90,289.60 110.43,289.60 96.60 C289.60 82.77,295.03 74.30,303.90 74.30Z" fill="#e04834"/><path d="M303.90 77.42 C310.28 77.42,314.20 84.03,314.20 94.82 C314.20 105.60,310.28 112.21,303.90 112.21 C297.52 112.21,293.60 105.60,293.60 94.82 C293.60 84.03,297.52 77.42,303.90 77.42Z" fill="#e86248" opacity="0.7"/><ellipse cx="308.5" cy="92.7" rx="2.8" ry="2.4" fill="#f4a08c" opacity="0.45"/><ellipse cx="306.3" cy="91.7" rx="2.8" ry="1.4" fill="#f4a08c" opacity="0.46"/><ellipse cx="299.7" cy="91.5" rx="3.4" ry="2.6" fill="#f4a08c" opacity="0.60"/><ellipse cx="308.1" cy="99.5" rx="3.5" ry="1.4" fill="#f4a08c" opacity="0.56"/><ellipse cx="306.2" cy="92.5" rx="2.7" ry="2.5" fill="#f4a08c" opacity="0.51"/><ellipse cx="302.7" cy="93.0" rx="2.1" ry="2.6" fill="#f4a08c" opacity="0.30"/><ellipse cx="298.1" cy="92.6" rx="3.0" ry="2.0" fill="#f4a08c" opacity="0.53"/><ellipse cx="304.4" cy="106.0" rx="8.2" ry="6.0" fill="url(#spot)"/></g>
<g filter="url(#bl07)"><path d="M342.20 73.70 C351.38 73.70,357.00 83.24,357.00 98.80 C357.00 114.36,351.38 123.90,342.20 123.90 C333.02 123.90,327.40 114.36,327.40 98.80 C327.40 83.24,333.02 73.70,342.20 73.70Z" fill="#b8b0b0" opacity="0.4"/><path d="M341.20 73.80 C349.57 73.80,354.70 82.84,354.70 97.60 C354.70 112.36,349.57 121.40,341.20 121.40 C332.83 121.40,327.70 112.36,327.70 97.60 C327.70 82.84,332.83 73.80,341.20 73.80Z" fill="#e04834"/><path d="M341.20 77.13 C347.23 77.13,350.92 84.19,350.92 95.70 C350.92 107.21,347.23 114.26,341.20 114.26 C335.17 114.26,331.48 107.21,331.48 95.70 C331.48 84.19,335.17 77.13,341.20 77.13Z" fill="#e86248" opacity="0.7"/><ellipse cx="337.4" cy="86.7" rx="2.1" ry="1.9" fill="#f4a08c" opacity="0.32"/><ellipse cx="336.8" cy="92.6" rx="3.3" ry="2.2" fill="#f4a08c" opacity="0.59"/><ellipse cx="342.7" cy="100.6" rx="2.3" ry="2.0" fill="#f4a08c" opacity="0.43"/><ellipse cx="340.3" cy="89.9" rx="3.3" ry="3.3" fill="#f4a08c" opacity="0.59"/><ellipse cx="334.9" cy="97.4" rx="2.9" ry="1.9" fill="#f4a08c" opacity="0.33"/><ellipse cx="344.2" cy="89.8" rx="2.9" ry="2.0" fill="#f4a08c" opacity="0.49"/><ellipse cx="346.8" cy="87.2" rx="1.6" ry="3.2" fill="#f4a08c" opacity="0.49"/><ellipse cx="341.4" cy="106.0" rx="7.5" ry="6.8" fill="url(#spot)"/></g>
<rect x="367.30" y="15.30" width="27.30" height="115.90" fill="url(#ruler)" stroke="none" stroke-width="0.8"/>
<line x1="367.50" y1="24.22" x2="373.50" y2="24.22" stroke="#2a2418" stroke-width="1.0"/>
<line x1="367.50" y1="27.64" x2="373.50" y2="27.64" stroke="#2a2418" stroke-width="1.0"/>
<line x1="367.50" y1="31.06" x2="373.50" y2="31.06" stroke="#2a2418" stroke-width="1.0"/>
<line x1="367.50" y1="34.48" x2="373.50" y2="34.48" stroke="#2a2418" stroke-width="1.0"/>
<line x1="367.50" y1="37.90" x2="376.50" y2="37.90" stroke="#2a2418" stroke-width="1.0"/>
<line x1="367.50" y1="41.32" x2="373.50" y2="41.32" stroke="#2a2418" stroke-width="1.0"/>
<line x1="367.50" y1="44.74" x2="373.50" y2="44.74" stroke="#2a2418" stroke-width="1.0"/>
<line x1="367.50" y1="48.16" x2="373.50" y2="48.16" stroke="#2a2418" stroke-width="1.0"/>
<line x1="367.50" y1="51.58" x2="373.50" y2="51.58" stroke="#2a2418" stroke-width="1.0"/>
<line x1="367.50" y1="55.00" x2="379.50" y2="55.00" stroke="#2a2418" stroke-width="1.0"/>
<line x1="367.50" y1="58.42" x2="373.50" y2="58.42" stroke="#2a2418" stroke-width="1.0"/>
<line x1="367.50" y1="61.84" x2="373.50" y2="61.84" stroke="#2a2418" stroke-width="1.0"/>
<line x1="367.50" y1="65.26" x2="373.50" y2="65.26" stroke="#2a2418" stroke-width="1.0"/>
<line x1="367.50" y1="68.68" x2="373.50" y2="68.68" stroke="#2a2418" stroke-width="1.0"/>
<line x1="367.50" y1="72.10" x2="376.50" y2="72.10" stroke="#2a2418" stroke-width="1.0"/>
<line x1="367.50" y1="75.52" x2="373.50" y2="75.52" stroke="#2a2418" stroke-width="1.0"/>
<line x1="367.50" y1="78.94" x2="373.50" y2="78.94" stroke="#2a2418" stroke-width="1.0"/>
<line x1="367.50" y1="82.36" x2="373.50" y2="82.36" stroke="#2a2418" stroke-width="1.0"/>
<line x1="367.50" y1="85.78" x2="373.50" y2="85.78" stroke="#2a2418" stroke-width="1.0"/>
<line x1="367.50" y1="89.20" x2="379.50" y2="89.20" stroke="#2a2418" stroke-width="1.0"/>
<line x1="367.50" y1="92.62" x2="373.50" y2="92.62" stroke="#2a2418" stroke-width="1.0"/>
<line x1="367.50" y1="96.04" x2="373.50" y2="96.04" stroke="#2a2418" stroke-width="1.0"/>
<line x1="367.50" y1="99.46" x2="373.50" y2="99.46" stroke="#2a2418" stroke-width="1.0"/>
<line x1="367.50" y1="102.88" x2="373.50" y2="102.88" stroke="#2a2418" stroke-width="1.0"/>
<line x1="367.50" y1="106.30" x2="376.50" y2="106.30" stroke="#2a2418" stroke-width="1.0"/>
<line x1="367.50" y1="109.72" x2="373.50" y2="109.72" stroke="#2a2418" stroke-width="1.0"/>
<line x1="367.50" y1="113.14" x2="373.50" y2="113.14" stroke="#2a2418" stroke-width="1.0"/>
<line x1="367.50" y1="116.56" x2="373.50" y2="116.56" stroke="#2a2418" stroke-width="1.0"/>
<line x1="367.50" y1="119.98" x2="373.50" y2="119.98" stroke="#2a2418" stroke-width="1.0"/>
<line x1="367.50" y1="123.40" x2="379.50" y2="123.40" stroke="#2a2418" stroke-width="1.0"/>
<line x1="368.00" y1="20.80" x2="368.00" y2="129.00" stroke="#2a2418" stroke-width="1.2"/>
<text x="381" y="55.2" font-size="8.5" font-weight="bold" fill="#1c1810" text-anchor="middle" transform="rotate(90 381 55.2)" dy="3">1</text>
<text x="381" y="89.4" font-size="8.5" font-weight="bold" fill="#1c1810" text-anchor="middle" transform="rotate(90 381 89.4)" dy="3">2</text>
<text x="381" y="123.6" font-size="8.5" font-weight="bold" fill="#1c1810" text-anchor="middle" transform="rotate(90 381 123.6)" dy="3">3</text>
<text x="381" y="24" font-size="4" fill="#2a2418" transform="rotate(90 381 24)">mm</text>
<text x="381" y="61" font-size="4" fill="#2a2418" transform="rotate(90 381 61)">cm</text>
<rect x="193.0" y="15.3" width="201.6" height="115.9" fill="none" stroke="#3a3a3a" stroke-width="1"/>
<line x1="351.5" y1="42.2" x2="366.5" y2="42.2" stroke="#1e1e96" stroke-width="2"/>
<polygon points="348.0,42.2 353.5,38.6 353.5,45.800000000000004" fill="#1e1e96"/>
<line x1="357.2" y1="87.1" x2="374" y2="87.1" stroke="#eaea18" stroke-width="2"/>
<polygon points="353.7,87.1 359.2,83.5 359.2,90.69999999999999" fill="#eaea18"/>
<line x1="357.2" y1="104.0" x2="374" y2="104.0" stroke="#1e1e96" stroke-width="2"/>
<polygon points="353.7,104.0 359.2,100.4 359.2,107.6" fill="#1e1e96"/>
<polygon points="294.5,17.4 295.2,18.9 296.8,19.1 295.6,20.1 296.0,21.7 294.5,20.9 293.0,21.7 293.4,20.1 292.2,19.1 293.8,18.9" fill="#f0e040"/>
<text x="206.80" y="38.70" font-size="7.8" text-anchor="middle" fill="#000" transform="rotate(-90 206.8 38.7)">Fetuses of</text>
<text x="215.80" y="38.70" font-size="7.8" text-anchor="middle" fill="#000" transform="rotate(-90 215.8 38.7)">immune</text>
<text x="206.80" y="100.10" font-size="7.8" text-anchor="middle" fill="#000" transform="rotate(-90 206.8 100.1)">Fetuses of</text>
<text x="215.80" y="100.10" font-size="7.8" text-anchor="middle" fill="#000" transform="rotate(-90 215.8 100.1)">non-immune</text>
</g>
<text x="0.00" y="158.00" font-size="11.5" text-anchor="start" fill="#000" font-weight="bold">b</text>
<text x="202.50" y="160.20" font-size="7.8" text-anchor="middle" fill="#000">Maternal immune response in the spleen</text>
<line x1="46.90" y1="190.00" x2="46.90" y2="250.50" stroke="#000" stroke-width="0.8"/>
<line x1="44.40" y1="190.00" x2="46.90" y2="190.00" stroke="#000" stroke-width="0.8"/>
<text x="43.20" y="192.81" font-size="7.8" text-anchor="end" fill="#000">5</text>
<line x1="44.40" y1="202.10" x2="46.90" y2="202.10" stroke="#000" stroke-width="0.8"/>
<text x="43.20" y="204.91" font-size="7.8" text-anchor="end" fill="#000">4</text>
<line x1="44.40" y1="214.20" x2="46.90" y2="214.20" stroke="#000" stroke-width="0.8"/>
<text x="43.20" y="217.01" font-size="7.8" text-anchor="end" fill="#000">3</text>
<line x1="44.40" y1="226.30" x2="46.90" y2="226.30" stroke="#000" stroke-width="0.8"/>
<text x="43.20" y="229.11" font-size="7.8" text-anchor="end" fill="#000">2</text>
<line x1="44.40" y1="238.40" x2="46.90" y2="238.40" stroke="#000" stroke-width="0.8"/>
<text x="43.20" y="241.21" font-size="7.8" text-anchor="end" fill="#000">1</text>
<line x1="44.40" y1="250.50" x2="46.90" y2="250.50" stroke="#000" stroke-width="0.8"/>
<text x="43.20" y="253.31" font-size="7.8" text-anchor="end" fill="#000">0</text>
<line x1="46.90" y1="250.50" x2="151.00" y2="250.50" stroke="#000" stroke-width="0.8"/>
<line x1="73.05" y1="232.00" x2="73.05" y2="220.70" stroke="#000" stroke-width="1.0"/>
<line x1="64.80" y1="220.70" x2="81.30" y2="220.70" stroke="#000" stroke-width="1.0"/>
<rect x="55.90" y="232.50" width="34.30" height="18.00" fill="#d2d2d2" stroke="#000" stroke-width="1.0"/>
<line x1="73.10" y1="250.50" x2="73.10" y2="252.50" stroke="#000" stroke-width="0.8"/>
<line x1="125.70" y1="205.00" x2="125.70" y2="198.50" stroke="#000" stroke-width="1.0"/>
<line x1="117.20" y1="198.50" x2="134.20" y2="198.50" stroke="#000" stroke-width="1.0"/>
<rect x="108.70" y="205.50" width="34.00" height="45.00" fill="#000" stroke="#000" stroke-width="1.0"/>
<line x1="125.70" y1="250.50" x2="125.70" y2="252.50" stroke="#000" stroke-width="0.8"/>
<line x1="65.10" y1="188.40" x2="124.80" y2="188.40" stroke="#000" stroke-width="0.8"/>
<text x="94.95" y="187.40" font-size="8" text-anchor="middle" fill="#000" font-weight="bold">*</text>
<text x="31.50" y="220.00" font-size="7.8" text-anchor="middle" fill="#000" transform="rotate(-90 31.5 220)">% Th17 cells</text>
<text x="73.00" y="261.00" font-size="7.8" text-anchor="middle" fill="#000">Non-immune</text>
<text x="125.50" y="261.00" font-size="7.8" text-anchor="middle" fill="#000">Immune</text>
<rect x="224.3" y="178.8" width="85.19999999999999" height="71.39999999999998" fill="#fff" stroke="#9aa0c8" stroke-width="0.6"/>
<clipPath id="fc3"><rect x="224.3" y="178.8" width="85.19999999999999" height="71.39999999999998"/></clipPath>
<g clip-path="url(#fc3)"><path d="M258.7 246.3h0.9M251.0 243.9h0.9M256.1 232.6h0.9M272.2 236.4h0.9M257.7 241.6h0.9M266.5 234.7h0.9M262.4 226.2h0.9M255.2 231.1h0.9M248.0 221.4h0.9M245.8 232.9h0.9M256.7 232.1h0.9M258.5 223.0h0.9M257.4 237.1h0.9M263.6 227.4h0.9M255.0 216.9h0.9M254.2 215.2h0.9M247.4 244.9h0.9M241.5 242.2h0.9M260.5 232.2h0.9M261.4 239.7h0.9M265.8 232.9h0.9M253.6 229.6h0.9M250.6 234.6h0.9M252.1 244.6h0.9M244.0 225.2h0.9M250.9 216.2h0.9M272.3 213.3h0.9M255.9 230.3h0.9M270.4 217.1h0.9M266.0 228.4h0.9M256.8 229.0h0.9M262.8 224.8h0.9M257.4 238.2h0.9M271.8 213.4h0.9M269.4 243.5h0.9M254.4 237.7h0.9M254.5 249.8h0.9M259.6 233.1h0.9M256.3 233.2h0.9M256.7 227.1h0.9M273.4 217.8h0.9M231.0 233.9h0.9M256.9 238.4h0.9M256.5 233.7h0.9M260.5 243.7h0.9M254.6 231.6h0.9M272.6 239.8h0.9M263.8 229.7h0.9M249.2 237.7h0.9M251.8 225.5h0.9M248.3 230.4h0.9M266.3 231.1h0.9M247.1 241.0h0.9M258.5 242.6h0.9M267.0 233.5h0.9M256.9 234.6h0.9M249.5 241.0h0.9M268.3 236.6h0.9M256.2 232.7h0.9M252.1 227.8h0.9M255.0 227.4h0.9M254.7 220.8h0.9M260.6 235.4h0.9M249.4 214.3h0.9M257.9 244.9h0.9M252.5 230.7h0.9M253.7 240.9h0.9M251.1 243.9h0.9M255.7 243.3h0.9M258.2 232.9h0.9M246.9 228.8h0.9M256.0 240.9h0.9M259.8 228.7h0.9M261.1 243.9h0.9M256.9 231.0h0.9M255.0 242.3h0.9M262.0 226.6h0.9M260.8 230.7h0.9M252.4 246.2h0.9M264.2 228.5h0.9M258.6 239.5h0.9M253.2 233.9h0.9M263.0 218.9h0.9M260.5 241.6h0.9M261.8 222.9h0.9M260.4 227.2h0.9M262.3 240.4h0.9M259.6 228.1h0.9M253.6 242.7h0.9M251.3 239.5h0.9M261.8 232.5h0.9M276.0 235.6h0.9M274.1 216.9h0.9M241.2 243.8h0.9M262.8 232.2h0.9M257.6 217.9h0.9M253.3 225.7h0.9M256.3 243.0h0.9M258.4 238.3h0.9M252.8 231.1h0.9M258.8 232.5h0.9M267.5 227.1h0.9M272.2 226.2h0.9M265.9 228.0h0.9M270.4 236.2h0.9M261.0 241.7h0.9M253.2 225.6h0.9M242.8 246.0h0.9M252.8 229.7h0.9M245.0 237.2h0.9M255.0 239.8h0.9M244.5 231.4h0.9M264.3 249.0h0.9M270.0 227.3h0.9M258.4 234.0h0.9M247.7 222.0h0.9M263.7 237.2h0.9M256.9 245.9h0.9M250.5 239.7h0.9M258.1 234.5h0.9M261.7 236.6h0.9M260.0 237.4h0.9M272.5 232.2h0.9M265.6 240.5h0.9M255.4 242.2h0.9M251.6 245.4h0.9M251.9 230.6h0.9M260.4 242.5h0.9M264.8 243.0h0.9M256.4 226.4h0.9M262.1 237.7h0.9M250.9 243.8h0.9M259.5 226.4h0.9M261.3 223.1h0.9M251.4 238.6h0.9M246.3 235.3h0.9M247.9 241.6h0.9M252.5 236.6h0.9M246.7 231.9h0.9M265.1 239.1h0.9M244.2 243.3h0.9M264.7 231.6h0.9M268.6 225.5h0.9M257.4 245.0h0.9M267.8 246.5h0.9M249.8 219.0h0.9M260.9 222.1h0.9M257.0 223.5h0.9M266.0 242.2h0.9M262.2 235.2h0.9M258.3 232.3h0.9M260.9 237.2h0.9M261.4 231.1h0.9M272.2 237.5h0.9M268.5 247.0h0.9M251.4 219.8h0.9M267.4 231.5h0.9M258.6 232.7h0.9M259.0 224.3h0.9M257.2 230.8h0.9M257.9 214.0h0.9M264.2 238.0h0.9M245.0 228.4h0.9M258.2 240.7h0.9M258.0 247.5h0.9M258.2 226.0h0.9M252.9 241.7h0.9M253.4 242.6h0.9M265.7 240.3h0.9M265.6 233.4h0.9M257.9 229.7h0.9M253.4 220.9h0.9M253.8 225.4h0.9M247.3 236.3h0.9M261.4 231.9h0.9M268.3 243.5h0.9M265.8 229.6h0.9M246.8 240.0h0.9M260.3 241.5h0.9M261.1 246.3h0.9M255.8 241.0h0.9M251.3 214.2h0.9M254.7 248.5h0.9M245.4 244.2h0.9M252.9 231.4h0.9M258.3 236.9h0.9M250.7 236.1h0.9M261.3 242.5h0.9M252.3 249.0h0.9M247.9 236.6h0.9M244.1 238.4h0.9M262.2 224.7h0.9M246.1 236.7h0.9M262.7 227.9h0.9M256.0 212.3h0.9M252.7 236.3h0.9M259.1 249.2h0.9M249.4 214.7h0.9M261.4 229.7h0.9M260.1 241.5h0.9M262.5 248.0h0.9M268.1 220.0h0.9M254.9 243.7h0.9M257.6 231.2h0.9M269.9 244.4h0.9M256.2 243.2h0.9M248.1 228.5h0.9M264.8 235.4h0.9M250.0 239.0h0.9M260.5 246.6h0.9M265.2 232.5h0.9M254.4 233.8h0.9M256.3 248.2h0.9M269.9 247.2h0.9M260.8 232.8h0.9M264.8 231.9h0.9M259.8 220.0h0.9M254.8 248.0h0.9M250.3 221.6h0.9M268.9 231.8h0.9M254.4 234.0h0.9M251.0 235.3h0.9M255.7 221.7h0.9M253.7 232.7h0.9M251.5 224.9h0.9M255.8 231.2h0.9M261.8 232.9h0.9M252.1 247.5h0.9M250.2 228.4h0.9M253.0 227.0h0.9M256.2 240.2h0.9M268.8 241.0h0.9M258.3 223.7h0.9M257.5 226.5h0.9M257.3 243.8h0.9M259.5 233.1h0.9M252.4 234.8h0.9M258.8 226.6h0.9M254.2 242.9h0.9M245.5 231.0h0.9M249.2 248.9h0.9M262.5 239.6h0.9M261.0 237.6h0.9M260.2 220.7h0.9M259.9 240.3h0.9M247.3 242.4h0.9M263.0 221.3h0.9M254.5 232.2h0.9M254.0 238.5h0.9M248.4 233.0h0.9M259.7 241.5h0.9M258.4 232.8h0.9M263.2 217.1h0.9M265.0 232.2h0.9M248.6 231.1h0.9M244.2 216.6h0.9M255.5 228.0h0.9M263.5 227.0h0.9M248.3 226.4h0.9M270.9 235.2h0.9M253.4 226.1h0.9M249.8 233.5h0.9M261.2 245.4h0.9M266.6 237.4h0.9M253.1 227.3h0.9M240.6 225.8h0.9M261.2 232.0h0.9M260.8 222.9h0.9M264.7 237.7h0.9M258.3 238.6h0.9M241.2 230.0h0.9M256.6 230.5h0.9M264.4 225.5h0.9M268.7 228.7h0.9M257.6 226.8h0.9M264.1 215.5h0.9M263.2 227.6h0.9M258.4 224.6h0.9M259.7 236.7h0.9M262.4 237.8h0.9M262.7 243.9h0.9M255.1 224.4h0.9M248.4 241.1h0.9M255.2 244.5h0.9M258.3 225.9h0.9M256.6 226.5h0.9M251.7 243.0h0.9M253.6 231.3h0.9M263.1 235.1h0.9M258.9 230.1h0.9M253.2 236.5h0.9M259.2 240.3h0.9M254.3 238.1h0.9M261.6 235.7h0.9M262.3 244.1h0.9M259.5 235.7h0.9M250.7 238.0h0.9M257.3 232.2h0.9M251.8 240.2h0.9M277.2 238.9h0.9M258.6 238.9h0.9M253.6 235.9h0.9M253.0 229.2h0.9M259.7 237.1h0.9M257.2 227.9h0.9M260.0 225.2h0.9M263.8 231.9h0.9M258.0 242.1h0.9M262.2 223.4h0.9M256.1 238.3h0.9M249.8 213.4h0.9M257.5 234.6h0.9M282.4 235.7h0.9M280.7 237.2h0.9M287.6 239.4h0.9M283.0 231.5h0.9M286.2 233.3h0.9M284.1 216.0h0.9M281.3 234.1h0.9M277.5 246.6h0.9M282.2 233.7h0.9M284.1 240.9h0.9M275.8 246.7h0.9M283.1 232.6h0.9M279.4 220.4h0.9M283.6 225.2h0.9M284.6 231.0h0.9M276.6 238.3h0.9M281.2 224.9h0.9M279.6 240.4h0.9M278.6 222.9h0.9M278.7 226.4h0.9M276.8 235.4h0.9M279.7 233.1h0.9M270.9 238.1h0.9M278.9 231.3h0.9M272.9 220.6h0.9M284.2 227.9h0.9M287.1 226.2h0.9M277.3 242.5h0.9M285.0 239.0h0.9M282.5 233.8h0.9M277.6 233.2h0.9M287.0 241.3h0.9M280.1 237.8h0.9M284.5 245.6h0.9M279.3 234.3h0.9M281.3 246.4h0.9M271.6 242.6h0.9M272.3 225.3h0.9M276.5 233.7h0.9M281.0 238.3h0.9M281.2 231.1h0.9M294.2 238.5h0.9M285.3 240.2h0.9M274.1 226.4h0.9M280.8 216.8h0.9M275.8 245.1h0.9M277.5 236.5h0.9M283.8 224.6h0.9M281.5 229.4h0.9M274.0 232.5h0.9M279.7 231.4h0.9M276.4 243.5h0.9M286.3 240.0h0.9M279.5 225.6h0.9M275.5 225.1h0.9M281.1 243.2h0.9M285.0 234.8h0.9M277.9 236.6h0.9M280.7 240.3h0.9M288.0 228.9h0.9M291.4 216.3h0.9M270.3 221.5h0.9M274.4 232.9h0.9M291.3 228.8h0.9M286.0 231.8h0.9M280.8 225.9h0.9M292.4 234.7h0.9M281.0 238.7h0.9M279.2 227.6h0.9M272.2 233.4h0.9M288.8 238.8h0.9M279.0 244.5h0.9M274.9 247.3h0.9M279.9 227.6h0.9M283.7 239.6h0.9M278.1 236.9h0.9M285.3 247.5h0.9M275.4 211.5h0.9M291.1 232.7h0.9M277.7 238.8h0.9M277.7 244.3h0.9M273.2 233.2h0.9M273.2 248.6h0.9M278.7 244.8h0.9M287.6 224.3h0.9M278.8 241.4h0.9M280.3 233.8h0.9M284.6 243.1h0.9M276.8 233.8h0.9M283.5 236.9h0.9M280.8 225.0h0.9M289.6 233.0h0.9M281.5 234.7h0.9M280.4 236.3h0.9M275.4 238.4h0.9M286.6 238.6h0.9M284.0 239.3h0.9M276.3 238.4h0.9M285.6 237.6h0.9M274.3 225.3h0.9M288.5 226.5h0.9M280.0 239.9h0.9M280.5 219.1h0.9M269.6 234.1h0.9M275.8 232.7h0.9M280.5 236.5h0.9M272.7 220.0h0.9M285.1 229.4h0.9M273.6 217.2h0.9M282.9 223.7h0.9M274.3 240.6h0.9M281.7 240.0h0.9M273.1 209.4h0.9M274.6 232.3h0.9M276.4 243.0h0.9M282.0 225.7h0.9M283.1 233.7h0.9M277.3 245.0h0.9M270.9 244.2h0.9M286.0 216.6h0.9M279.0 233.5h0.9M273.8 229.9h0.9M275.6 235.6h0.9M276.9 215.8h0.9M286.5 243.0h0.9M275.4 242.8h0.9M291.1 221.1h0.9M277.8 230.3h0.9M283.1 232.3h0.9M272.3 246.3h0.9M278.2 241.5h0.9M292.5 228.3h0.9M277.7 243.2h0.9M279.4 239.7h0.9M283.5 238.1h0.9M280.7 238.5h0.9M271.1 232.6h0.9M284.1 224.2h0.9M280.2 234.1h0.9M283.9 238.0h0.9M275.7 235.8h0.9M278.4 234.2h0.9M276.4 223.4h0.9M281.2 237.3h0.9M280.2 229.4h0.9M281.2 233.0h0.9M286.6 232.3h0.9M278.1 237.9h0.9M279.4 239.7h0.9M281.8 238.7h0.9M283.2 237.7h0.9M297.4 223.6h0.9M284.1 234.1h0.9M271.5 236.3h0.9M279.6 236.7h0.9M274.8 247.3h0.9M281.4 223.6h0.9M273.3 237.5h0.9M273.6 238.9h0.9M281.8 229.8h0.9M269.4 223.3h0.9M282.0 230.4h0.9M290.3 231.1h0.9M282.1 241.2h0.9M280.5 237.8h0.9M285.6 233.7h0.9M281.9 231.8h0.9M291.1 236.6h0.9M284.6 208.2h0.9M277.4 224.9h0.9M280.2 231.1h0.9M274.3 232.6h0.9M284.5 244.7h0.9M277.1 244.6h0.9M276.6 240.6h0.9M275.3 244.5h0.9M292.8 232.4h0.9M286.8 222.0h0.9M279.7 239.6h0.9M271.1 234.9h0.9M275.7 245.9h0.9M274.0 238.0h0.9M266.0 211.2h0.9M285.3 213.3h0.9M270.2 217.5h0.9M283.7 217.1h0.9M284.0 204.1h0.9M289.0 219.0h0.9M265.4 227.1h0.9M275.2 217.6h0.9M266.1 209.6h0.9M267.1 219.9h0.9M276.6 207.6h0.9M275.8 221.9h0.9M273.3 218.0h0.9M270.9 202.4h0.9M275.1 212.0h0.9M279.1 220.6h0.9M275.5 211.5h0.9M282.6 217.0h0.9M277.7 215.7h0.9M264.9 210.2h0.9M268.4 211.5h0.9M283.4 202.2h0.9M283.5 210.1h0.9M276.7 210.8h0.9M282.3 209.3h0.9M265.5 216.3h0.9M277.1 218.4h0.9M281.6 205.5h0.9M279.2 214.8h0.9M277.6 214.7h0.9M279.9 210.1h0.9M277.1 220.9h0.9M271.6 213.5h0.9M271.9 206.6h0.9M275.5 215.2h0.9M287.1 212.6h0.9M283.6 217.8h0.9M278.4 192.3h0.9M278.8 214.4h0.9M271.8 214.9h0.9M286.8 205.9h0.9M274.9 220.4h0.9M267.2 206.8h0.9M279.8 220.7h0.9M285.3 219.3h0.9M291.8 216.7h0.9M270.2 212.6h0.9M281.8 216.6h0.9M266.4 216.7h0.9M273.2 212.6h0.9M286.8 212.8h0.9M274.0 213.2h0.9M274.1 228.3h0.9M283.0 220.4h0.9M273.9 209.5h0.9M279.5 198.7h0.9M284.1 205.1h0.9M278.6 216.4h0.9M273.3 216.5h0.9M282.2 227.3h0.9M295.1 214.5h0.9M295.7 198.5h0.9M298.9 195.8h0.9M293.2 205.0h0.9M301.1 202.2h0.9M280.3 210.4h0.9M293.4 197.6h0.9M285.5 204.6h0.9M294.7 205.5h0.9M291.0 212.3h0.9M289.9 203.3h0.9M293.6 208.5h0.9M286.5 197.6h0.9M290.3 194.7h0.9M286.8 190.4h0.9M298.0 211.9h0.9M284.2 206.1h0.9M282.8 193.5h0.9M289.5 201.0h0.9M295.6 184.6h0.9M281.5 200.6h0.9M290.0 217.0h0.9M289.8 194.8h0.9M277.1 221.7h0.9M287.0 200.5h0.9M290.5 192.9h0.9M290.8 189.5h0.9M249.6 245.8h0.9M247.4 237.4h0.9M226.5 239.6h0.9M233.2 243.9h0.9M229.1 237.4h0.9M243.0 244.1h0.9M242.7 235.7h0.9M249.5 237.9h0.9M257.2 241.3h0.9M241.9 237.9h0.9M254.0 242.5h0.9M241.3 237.4h0.9M231.7 242.9h0.9M242.0 249.7h0.9M234.7 240.1h0.9M249.8 246.0h0.9M236.6 249.3h0.9M245.7 246.4h0.9M244.7 246.8h0.9M238.6 240.9h0.9M250.6 243.9h0.9M244.8 247.7h0.9M243.8 244.0h0.9M248.5 237.6h0.9M239.6 243.1h0.9M240.9 246.3h0.9M245.7 241.1h0.9M250.6 240.2h0.9M236.3 243.6h0.9M247.0 241.3h0.9M233.4 239.4h0.9M243.8 245.4h0.9M256.1 241.2h0.9M240.2 231.3h0.9M252.2 246.5h0.9M242.0 238.4h0.9M235.7 249.5h0.9M248.0 248.4h0.9M240.8 247.9h0.9M230.8 249.3h0.9M241.7 236.1h0.9M238.8 237.1h0.9M244.1 238.4h0.9M231.8 240.2h0.9M240.1 243.0h0.9M247.5 248.3h0.9" stroke="#2846e6" stroke-width="0.9"/><ellipse cx="258.5" cy="236" rx="8.5" ry="12" fill="#2a48e4" transform="rotate(-5 258.5 236)" filter="url(#bl15)" opacity="0.95"/><ellipse cx="280.5" cy="237" rx="6" ry="11" fill="#2a48e4" transform="rotate(0 280.5 237)" filter="url(#bl15)" opacity="0.95"/><ellipse cx="270" cy="224" rx="4" ry="4" fill="#2a48e4" transform="rotate(0 270 224)" filter="url(#bl15)" opacity="0.95"/><ellipse cx="259.5" cy="234.5" rx="7" ry="9.8" fill="url(#fcore)" transform="rotate(-8 259.5 234.5)"/><ellipse cx="280.2" cy="235.2" rx="5.6" ry="9.2" fill="url(#fcore2)" transform="rotate(0 280.2 235.2)"/></g>
<rect x="260.7" y="249.0" width="0.9" height="0.9" fill="#e03020"/>
<rect x="277.9" y="249.0" width="0.9" height="0.9" fill="#e03020"/>
<rect x="273.8" y="249.0" width="0.9" height="0.9" fill="#e03020"/>
<rect x="269.2" y="249.0" width="0.9" height="0.9" fill="#e03020"/>
<rect x="255.6" y="249.0" width="0.9" height="0.9" fill="#e03020"/>
<rect x="243.0" y="249.0" width="0.9" height="0.9" fill="#e03020"/>
<rect x="262.7" y="249.0" width="0.9" height="0.9" fill="#e03020"/>
<rect x="269.9" y="249.0" width="0.9" height="0.9" fill="#e03020"/>
<rect x="276.7" y="249.0" width="0.9" height="0.9" fill="#e03020"/>
<rect x="249.1" y="249.0" width="0.9" height="0.9" fill="#e03020"/>
<rect x="247.4" y="249.0" width="0.9" height="0.9" fill="#e03020"/>
<rect x="278.9" y="249.0" width="0.9" height="0.9" fill="#e03020"/>
<rect x="269.7" y="249.0" width="0.9" height="0.9" fill="#e03020"/>
<rect x="259.9" y="249.0" width="0.9" height="0.9" fill="#e03020"/>
<line x1="224.30" y1="214.60" x2="309.50" y2="214.60" stroke="#5a6af0" stroke-width="0.7"/>
<line x1="271.80" y1="213.90" x2="271.80" y2="250.20" stroke="#5a6af0" stroke-width="0.7"/>
<rect x="271.8" y="178.8" width="37.69999999999999" height="35.099999999999994" fill="none" stroke="#111" stroke-width="1.2"/>
<line x1="224.30" y1="178.80" x2="224.30" y2="250.20" stroke="#555" stroke-width="0.7"/>
<line x1="224.30" y1="250.20" x2="309.50" y2="250.20" stroke="#555" stroke-width="0.7"/>
<line x1="222.30" y1="178.80" x2="224.30" y2="178.80" stroke="#333" stroke-width="0.7"/>
<text x="218.80" y="181.10" font-size="6.4" text-anchor="end" fill="#000">1e3</text>
<line x1="223.30" y1="191.30" x2="224.30" y2="191.30" stroke="#555" stroke-width="0.5"/>
<line x1="223.30" y1="188.08" x2="224.30" y2="188.08" stroke="#555" stroke-width="0.5"/>
<line x1="223.30" y1="185.94" x2="224.30" y2="185.94" stroke="#555" stroke-width="0.5"/>
<line x1="223.30" y1="184.16" x2="224.30" y2="184.16" stroke="#555" stroke-width="0.5"/>
<line x1="223.30" y1="182.73" x2="224.30" y2="182.73" stroke="#555" stroke-width="0.5"/>
<line x1="223.30" y1="181.48" x2="224.30" y2="181.48" stroke="#555" stroke-width="0.5"/>
<line x1="223.30" y1="180.59" x2="224.30" y2="180.59" stroke="#555" stroke-width="0.5"/>
<line x1="223.30" y1="179.69" x2="224.30" y2="179.69" stroke="#555" stroke-width="0.5"/>
<line x1="222.30" y1="196.65" x2="224.30" y2="196.65" stroke="#333" stroke-width="0.7"/>
<text x="218.80" y="198.95" font-size="6.4" text-anchor="end" fill="#000">1e2</text>
<line x1="223.30" y1="209.15" x2="224.30" y2="209.15" stroke="#555" stroke-width="0.5"/>
<line x1="223.30" y1="205.93" x2="224.30" y2="205.93" stroke="#555" stroke-width="0.5"/>
<line x1="223.30" y1="203.79" x2="224.30" y2="203.79" stroke="#555" stroke-width="0.5"/>
<line x1="223.30" y1="202.00" x2="224.30" y2="202.00" stroke="#555" stroke-width="0.5"/>
<line x1="223.30" y1="200.58" x2="224.30" y2="200.58" stroke="#555" stroke-width="0.5"/>
<line x1="223.30" y1="199.33" x2="224.30" y2="199.33" stroke="#555" stroke-width="0.5"/>
<line x1="223.30" y1="198.44" x2="224.30" y2="198.44" stroke="#555" stroke-width="0.5"/>
<line x1="223.30" y1="197.54" x2="224.30" y2="197.54" stroke="#555" stroke-width="0.5"/>
<line x1="222.30" y1="214.50" x2="224.30" y2="214.50" stroke="#333" stroke-width="0.7"/>
<text x="218.80" y="216.80" font-size="6.4" text-anchor="end" fill="#000">1e1</text>
<line x1="223.30" y1="227.00" x2="224.30" y2="227.00" stroke="#555" stroke-width="0.5"/>
<line x1="223.30" y1="223.78" x2="224.30" y2="223.78" stroke="#555" stroke-width="0.5"/>
<line x1="223.30" y1="221.64" x2="224.30" y2="221.64" stroke="#555" stroke-width="0.5"/>
<line x1="223.30" y1="219.85" x2="224.30" y2="219.85" stroke="#555" stroke-width="0.5"/>
<line x1="223.30" y1="218.43" x2="224.30" y2="218.43" stroke="#555" stroke-width="0.5"/>
<line x1="223.30" y1="217.18" x2="224.30" y2="217.18" stroke="#555" stroke-width="0.5"/>
<line x1="223.30" y1="216.28" x2="224.30" y2="216.28" stroke="#555" stroke-width="0.5"/>
<line x1="223.30" y1="215.39" x2="224.30" y2="215.39" stroke="#555" stroke-width="0.5"/>
<line x1="222.30" y1="232.35" x2="224.30" y2="232.35" stroke="#333" stroke-width="0.7"/>
<text x="218.80" y="234.65" font-size="6.4" text-anchor="end" fill="#000">1e0</text>
<line x1="223.30" y1="244.84" x2="224.30" y2="244.84" stroke="#555" stroke-width="0.5"/>
<line x1="223.30" y1="241.63" x2="224.30" y2="241.63" stroke="#555" stroke-width="0.5"/>
<line x1="223.30" y1="239.49" x2="224.30" y2="239.49" stroke="#555" stroke-width="0.5"/>
<line x1="223.30" y1="237.70" x2="224.30" y2="237.70" stroke="#555" stroke-width="0.5"/>
<line x1="223.30" y1="236.28" x2="224.30" y2="236.28" stroke="#555" stroke-width="0.5"/>
<line x1="223.30" y1="235.03" x2="224.30" y2="235.03" stroke="#555" stroke-width="0.5"/>
<line x1="223.30" y1="234.13" x2="224.30" y2="234.13" stroke="#555" stroke-width="0.5"/>
<line x1="223.30" y1="233.24" x2="224.30" y2="233.24" stroke="#555" stroke-width="0.5"/>
<line x1="222.30" y1="250.20" x2="224.30" y2="250.20" stroke="#333" stroke-width="0.7"/>
<text x="218.80" y="252.50" font-size="6.4" text-anchor="end" fill="#000">1e−1</text>
<line x1="224.30" y1="250.20" x2="224.30" y2="252.20" stroke="#333" stroke-width="0.7"/>
<text x="229.30" y="261.30" font-size="6.4" text-anchor="middle" fill="#000">1e−1</text>
<line x1="230.69" y1="250.20" x2="230.69" y2="251.30" stroke="#555" stroke-width="0.5"/>
<line x1="234.52" y1="250.20" x2="234.52" y2="251.30" stroke="#555" stroke-width="0.5"/>
<line x1="237.08" y1="250.20" x2="237.08" y2="251.30" stroke="#555" stroke-width="0.5"/>
<line x1="239.21" y1="250.20" x2="239.21" y2="251.30" stroke="#555" stroke-width="0.5"/>
<line x1="240.91" y1="250.20" x2="240.91" y2="251.30" stroke="#555" stroke-width="0.5"/>
<line x1="242.41" y1="250.20" x2="242.41" y2="251.30" stroke="#555" stroke-width="0.5"/>
<line x1="243.47" y1="250.20" x2="243.47" y2="251.30" stroke="#555" stroke-width="0.5"/>
<line x1="244.53" y1="250.20" x2="244.53" y2="251.30" stroke="#555" stroke-width="0.5"/>
<line x1="245.60" y1="250.20" x2="245.60" y2="252.20" stroke="#333" stroke-width="0.7"/>
<text x="247.60" y="261.30" font-size="6.4" text-anchor="middle" fill="#000">1e0</text>
<line x1="251.99" y1="250.20" x2="251.99" y2="251.30" stroke="#555" stroke-width="0.5"/>
<line x1="255.82" y1="250.20" x2="255.82" y2="251.30" stroke="#555" stroke-width="0.5"/>
<line x1="258.38" y1="250.20" x2="258.38" y2="251.30" stroke="#555" stroke-width="0.5"/>
<line x1="260.51" y1="250.20" x2="260.51" y2="251.30" stroke="#555" stroke-width="0.5"/>
<line x1="262.21" y1="250.20" x2="262.21" y2="251.30" stroke="#555" stroke-width="0.5"/>
<line x1="263.71" y1="250.20" x2="263.71" y2="251.30" stroke="#555" stroke-width="0.5"/>
<line x1="264.77" y1="250.20" x2="264.77" y2="251.30" stroke="#555" stroke-width="0.5"/>
<line x1="265.84" y1="250.20" x2="265.84" y2="251.30" stroke="#555" stroke-width="0.5"/>
<line x1="266.90" y1="250.20" x2="266.90" y2="252.20" stroke="#333" stroke-width="0.7"/>
<text x="268.20" y="261.30" font-size="6.4" text-anchor="middle" fill="#000">1e1</text>
<line x1="273.29" y1="250.20" x2="273.29" y2="251.30" stroke="#555" stroke-width="0.5"/>
<line x1="277.12" y1="250.20" x2="277.12" y2="251.30" stroke="#555" stroke-width="0.5"/>
<line x1="279.68" y1="250.20" x2="279.68" y2="251.30" stroke="#555" stroke-width="0.5"/>
<line x1="281.81" y1="250.20" x2="281.81" y2="251.30" stroke="#555" stroke-width="0.5"/>
<line x1="283.51" y1="250.20" x2="283.51" y2="251.30" stroke="#555" stroke-width="0.5"/>
<line x1="285.00" y1="250.20" x2="285.00" y2="251.30" stroke="#555" stroke-width="0.5"/>
<line x1="286.07" y1="250.20" x2="286.07" y2="251.30" stroke="#555" stroke-width="0.5"/>
<line x1="287.13" y1="250.20" x2="287.13" y2="251.30" stroke="#555" stroke-width="0.5"/>
<line x1="288.20" y1="250.20" x2="288.20" y2="252.20" stroke="#333" stroke-width="0.7"/>
<text x="289.00" y="261.30" font-size="6.4" text-anchor="middle" fill="#000">1e2</text>
<line x1="294.59" y1="250.20" x2="294.59" y2="251.30" stroke="#555" stroke-width="0.5"/>
<line x1="298.42" y1="250.20" x2="298.42" y2="251.30" stroke="#555" stroke-width="0.5"/>
<line x1="300.98" y1="250.20" x2="300.98" y2="251.30" stroke="#555" stroke-width="0.5"/>
<line x1="303.11" y1="250.20" x2="303.11" y2="251.30" stroke="#555" stroke-width="0.5"/>
<line x1="304.81" y1="250.20" x2="304.81" y2="251.30" stroke="#555" stroke-width="0.5"/>
<line x1="306.31" y1="250.20" x2="306.31" y2="251.30" stroke="#555" stroke-width="0.5"/>
<line x1="307.37" y1="250.20" x2="307.37" y2="251.30" stroke="#555" stroke-width="0.5"/>
<line x1="308.44" y1="250.20" x2="308.44" y2="251.30" stroke="#555" stroke-width="0.5"/>
<line x1="309.50" y1="250.20" x2="309.50" y2="252.20" stroke="#333" stroke-width="0.7"/>
<text x="310.30" y="261.30" font-size="6.4" text-anchor="middle" fill="#000">1e3</text>
<text x="226.00" y="184.30" font-size="5.4" text-anchor="start" fill="#3c40e8">0.00%-#</text>
<text x="273.00" y="184.30" font-size="5.4" text-anchor="start" fill="#3c40e8">1.59%-#</text>
<text x="226.00" y="218.80" font-size="5.4" text-anchor="start" fill="#3c40e8">0.50%-#</text>
<text x="273.00" y="218.80" font-size="5.4" text-anchor="start" fill="#3c40e8">2.41%-#</text>
<rect x="335.8" y="179.5" width="78.19999999999999" height="67.69999999999999" fill="#fff" stroke="#9aa0c8" stroke-width="0.6"/>
<clipPath id="fc5"><rect x="335.8" y="179.5" width="78.19999999999999" height="67.69999999999999"/></clipPath>
<g clip-path="url(#fc5)"><path d="M351.3 229.7h0.9M367.5 212.0h0.9M358.8 216.4h0.9M380.7 227.9h0.9M381.0 221.5h0.9M371.4 227.9h0.9M360.5 236.8h0.9M353.1 235.8h0.9M375.8 228.9h0.9M366.6 227.5h0.9M368.0 227.4h0.9M362.6 231.4h0.9M390.1 221.9h0.9M372.2 236.0h0.9M389.2 220.1h0.9M350.9 236.7h0.9M383.0 245.2h0.9M349.5 219.2h0.9M373.4 224.9h0.9M365.3 237.3h0.9M371.4 233.0h0.9M367.7 243.5h0.9M384.5 224.6h0.9M365.6 239.6h0.9M369.7 222.0h0.9M366.5 241.9h0.9M365.8 230.1h0.9M370.2 230.7h0.9M361.4 218.0h0.9M387.7 224.6h0.9M361.8 243.5h0.9M371.4 230.6h0.9M387.0 243.1h0.9M379.4 240.7h0.9M388.0 213.7h0.9M364.9 240.3h0.9M348.5 238.7h0.9M385.6 233.0h0.9M367.9 215.3h0.9M395.4 224.1h0.9M378.0 231.7h0.9M344.5 230.3h0.9M358.1 234.5h0.9M367.2 237.4h0.9M374.4 231.4h0.9M343.7 215.6h0.9M370.7 233.1h0.9M381.0 225.0h0.9M362.7 238.1h0.9M347.6 232.3h0.9M358.0 239.2h0.9M393.3 226.9h0.9M381.2 227.9h0.9M369.5 227.3h0.9M356.7 215.8h0.9M350.6 228.8h0.9M379.3 232.6h0.9M385.7 237.5h0.9M368.2 241.2h0.9M389.2 222.0h0.9M379.3 225.3h0.9M350.9 241.0h0.9M359.4 237.0h0.9M364.0 236.7h0.9M381.6 222.6h0.9M358.1 236.6h0.9M376.8 231.6h0.9M365.7 215.7h0.9M365.5 219.8h0.9M353.7 225.9h0.9M360.9 245.7h0.9M369.4 241.3h0.9M364.9 220.0h0.9M355.9 228.2h0.9M382.0 226.3h0.9M373.0 242.9h0.9M349.9 244.2h0.9M351.5 227.1h0.9M362.9 244.7h0.9M360.1 219.2h0.9M375.6 218.6h0.9M393.7 216.7h0.9M354.3 237.2h0.9M384.0 239.1h0.9M378.0 223.5h0.9M356.7 224.1h0.9M365.1 228.0h0.9M366.3 221.3h0.9M359.2 228.1h0.9M350.5 229.5h0.9M352.6 228.5h0.9M374.7 229.8h0.9M355.1 242.7h0.9M376.2 241.3h0.9M365.1 231.5h0.9M360.8 236.5h0.9M374.1 230.7h0.9M367.1 237.5h0.9M369.9 233.4h0.9M358.3 238.4h0.9M354.0 230.9h0.9M377.1 246.8h0.9M379.1 226.9h0.9M369.4 240.3h0.9M387.6 233.9h0.9M366.6 234.4h0.9M363.3 231.6h0.9M357.6 234.6h0.9M339.9 234.3h0.9M369.5 222.9h0.9M369.5 219.6h0.9M365.3 236.9h0.9M354.0 232.1h0.9M393.2 214.1h0.9M358.2 231.4h0.9M368.3 231.6h0.9M381.7 232.8h0.9M362.3 231.4h0.9M347.1 228.2h0.9M362.3 241.3h0.9M372.1 237.3h0.9M377.9 225.9h0.9M389.6 217.2h0.9M359.6 232.1h0.9M380.2 225.1h0.9M361.3 239.1h0.9M380.2 225.3h0.9M368.9 241.3h0.9M382.2 233.9h0.9M360.5 238.1h0.9M365.8 216.8h0.9M381.7 226.5h0.9M367.1 225.9h0.9M369.2 236.5h0.9M376.8 227.4h0.9M356.0 231.3h0.9M355.3 228.4h0.9M366.1 228.5h0.9M365.7 225.6h0.9M357.7 235.1h0.9M368.1 242.3h0.9M358.7 238.2h0.9M363.0 222.5h0.9M376.7 229.5h0.9M375.7 221.2h0.9M387.3 224.4h0.9M357.1 242.1h0.9M359.4 224.0h0.9M345.0 244.9h0.9M362.1 240.6h0.9M370.5 226.2h0.9M389.5 228.7h0.9M360.7 226.6h0.9M369.4 246.3h0.9M372.1 227.5h0.9M355.0 239.6h0.9M358.3 236.6h0.9M379.9 236.1h0.9M368.4 228.8h0.9M376.7 244.1h0.9M367.3 219.7h0.9M386.1 225.8h0.9M404.9 210.6h0.9M365.9 230.3h0.9M370.2 225.8h0.9M345.0 225.4h0.9M364.9 228.8h0.9M380.6 235.9h0.9M363.5 236.8h0.9M365.0 231.6h0.9M378.3 232.6h0.9M371.9 231.5h0.9M349.5 234.0h0.9M371.0 227.3h0.9M360.6 238.6h0.9M355.5 231.8h0.9M376.5 224.8h0.9M385.6 228.5h0.9M380.8 236.2h0.9M343.9 242.5h0.9M352.2 235.2h0.9M371.1 241.7h0.9M373.2 244.3h0.9M362.0 234.3h0.9M372.3 238.5h0.9M365.3 227.7h0.9M359.6 223.4h0.9M384.5 231.0h0.9M373.7 231.8h0.9M359.9 232.1h0.9M374.2 222.1h0.9M386.2 226.1h0.9M374.5 230.6h0.9M382.2 221.4h0.9M370.6 235.1h0.9M383.0 222.8h0.9M368.9 227.2h0.9M358.6 230.6h0.9M372.0 238.1h0.9M358.3 231.1h0.9M364.8 236.7h0.9M371.4 219.3h0.9M368.5 222.9h0.9M372.5 221.3h0.9M353.7 232.3h0.9M363.9 225.1h0.9M370.8 232.0h0.9M369.8 233.5h0.9M375.1 222.2h0.9M367.9 231.8h0.9M346.9 245.3h0.9M357.1 230.7h0.9M363.5 235.0h0.9M373.3 233.8h0.9M362.8 240.6h0.9M371.2 227.0h0.9M370.5 237.9h0.9M375.1 234.9h0.9M373.0 239.7h0.9M393.8 224.0h0.9M357.1 224.9h0.9M383.3 233.7h0.9M368.7 244.4h0.9M365.2 228.1h0.9M369.5 233.2h0.9M369.9 234.7h0.9M364.0 239.6h0.9M359.9 237.2h0.9M360.7 221.4h0.9M374.3 234.7h0.9M348.8 222.5h0.9M358.1 229.2h0.9M369.1 231.3h0.9M387.7 228.5h0.9M365.8 234.5h0.9M357.6 235.9h0.9M372.2 231.9h0.9M375.8 222.3h0.9M370.9 229.5h0.9M369.2 234.3h0.9M365.7 235.0h0.9M371.1 239.6h0.9M367.8 234.8h0.9M398.3 223.4h0.9M377.2 237.2h0.9M359.4 242.2h0.9M377.6 231.4h0.9M381.2 232.8h0.9M378.8 221.3h0.9M370.9 225.9h0.9M381.9 226.7h0.9M354.3 239.4h0.9M360.4 244.2h0.9M357.0 217.9h0.9M367.2 241.4h0.9M369.4 225.8h0.9M377.0 232.9h0.9M387.0 231.1h0.9M369.3 224.5h0.9M372.1 232.7h0.9M369.6 235.0h0.9M357.1 242.1h0.9M369.3 234.5h0.9M365.9 230.3h0.9M373.4 236.4h0.9M365.6 236.0h0.9M361.1 238.9h0.9M363.9 222.7h0.9M377.6 219.7h0.9M364.5 222.1h0.9M351.5 245.5h0.9M345.9 224.1h0.9M360.5 221.9h0.9M371.9 246.2h0.9M365.0 236.6h0.9M374.9 230.9h0.9M371.8 243.5h0.9M368.3 235.0h0.9M364.9 222.2h0.9M371.6 230.8h0.9M377.3 233.7h0.9M378.5 210.5h0.9M360.4 231.4h0.9M360.1 239.3h0.9M367.6 233.4h0.9M347.2 233.3h0.9M365.8 229.1h0.9M361.1 234.2h0.9M361.5 225.8h0.9M383.7 218.8h0.9M377.0 233.0h0.9M376.5 223.0h0.9M358.7 240.2h0.9M362.9 213.8h0.9M338.0 241.2h0.9M362.9 232.0h0.9M369.2 223.0h0.9M399.5 225.2h0.9M382.9 227.4h0.9M346.5 244.1h0.9M363.5 237.9h0.9M369.0 237.4h0.9M357.3 233.8h0.9M365.5 226.6h0.9M365.1 238.7h0.9M388.0 220.8h0.9M373.1 219.7h0.9M364.2 236.6h0.9M370.8 221.8h0.9M374.9 230.0h0.9M385.2 232.1h0.9M372.5 226.4h0.9M367.9 224.6h0.9M353.0 222.9h0.9M349.8 229.4h0.9M367.2 233.2h0.9M353.3 238.0h0.9M375.4 236.6h0.9M367.7 234.0h0.9M367.0 240.5h0.9M352.0 241.5h0.9M370.8 212.3h0.9M357.6 224.5h0.9M347.7 237.9h0.9M361.9 243.8h0.9M358.6 226.7h0.9M368.4 235.3h0.9M378.4 231.5h0.9M349.2 233.6h0.9M363.1 226.9h0.9M374.7 225.8h0.9M365.8 229.7h0.9M363.3 221.0h0.9M388.4 217.4h0.9M354.1 222.9h0.9M362.3 222.6h0.9M375.3 238.9h0.9M372.9 225.8h0.9M380.8 224.3h0.9M367.5 232.7h0.9M364.1 237.3h0.9M348.7 225.5h0.9M378.2 220.7h0.9M365.1 236.1h0.9M358.8 225.9h0.9M362.5 226.2h0.9M372.2 226.1h0.9M367.6 238.7h0.9M346.3 229.0h0.9M379.8 237.4h0.9M366.4 226.5h0.9M382.7 229.5h0.9M372.7 213.9h0.9M363.0 225.3h0.9M358.0 241.6h0.9M374.0 225.0h0.9M369.7 243.0h0.9M374.4 227.8h0.9M373.6 230.2h0.9M352.6 234.6h0.9M372.9 235.0h0.9M352.3 232.2h0.9M356.5 224.1h0.9M396.4 225.9h0.9M397.6 202.5h0.9M385.1 237.9h0.9M381.6 205.7h0.9M391.2 235.8h0.9M393.7 213.4h0.9M393.2 225.5h0.9M391.5 225.3h0.9M394.8 232.2h0.9M398.0 231.3h0.9M389.0 205.5h0.9M393.1 208.6h0.9M403.4 211.6h0.9M379.0 205.5h0.9M392.2 224.5h0.9M393.7 224.4h0.9M385.3 229.1h0.9M385.8 208.6h0.9M395.3 226.6h0.9M384.4 219.6h0.9M396.0 230.2h0.9M383.6 231.7h0.9M374.6 222.7h0.9M392.2 220.8h0.9M390.6 207.6h0.9M389.1 226.3h0.9M384.4 223.1h0.9M388.9 201.9h0.9M386.3 227.0h0.9M380.7 222.1h0.9M391.9 210.6h0.9M388.5 229.8h0.9M394.2 213.1h0.9M396.0 224.9h0.9M390.7 235.3h0.9M394.3 225.2h0.9M395.6 227.8h0.9M397.5 220.9h0.9M379.4 235.7h0.9M394.7 226.6h0.9M390.2 221.2h0.9M390.6 213.5h0.9M394.5 222.7h0.9M384.3 224.3h0.9M388.0 221.7h0.9M393.2 245.9h0.9M383.7 225.6h0.9M394.2 225.7h0.9M398.8 218.2h0.9M388.0 221.9h0.9M381.9 231.8h0.9M382.6 226.8h0.9M397.1 214.5h0.9M388.9 220.2h0.9M400.2 224.3h0.9M379.6 231.5h0.9M396.1 204.2h0.9M373.8 245.2h0.9M390.5 203.0h0.9M396.2 234.6h0.9M375.8 233.3h0.9M394.2 221.8h0.9M385.8 225.4h0.9M385.2 223.4h0.9M388.5 218.0h0.9M393.2 230.7h0.9M395.3 225.9h0.9M400.0 210.7h0.9M390.4 223.6h0.9M397.2 201.8h0.9M387.4 219.2h0.9M391.1 242.2h0.9M391.4 221.1h0.9M392.5 230.7h0.9M388.9 237.0h0.9M382.8 233.1h0.9M394.2 230.9h0.9M399.2 219.8h0.9M392.5 224.3h0.9M386.4 215.2h0.9M385.4 229.5h0.9M376.4 210.5h0.9M390.4 233.7h0.9M389.4 233.3h0.9M389.6 217.2h0.9M380.7 223.7h0.9M400.3 222.8h0.9M383.8 227.2h0.9M381.8 211.8h0.9M396.6 225.7h0.9M395.8 224.1h0.9M389.3 223.5h0.9M388.1 231.4h0.9M382.3 205.1h0.9M384.9 230.0h0.9M386.8 201.4h0.9M407.0 213.7h0.9M388.8 227.1h0.9M392.2 220.5h0.9M380.7 226.7h0.9M384.1 220.4h0.9M394.5 218.5h0.9M379.3 216.6h0.9M393.6 228.4h0.9M382.3 222.4h0.9M391.7 231.5h0.9M392.4 223.4h0.9M388.2 226.2h0.9M394.6 220.6h0.9M388.3 237.5h0.9M389.7 215.0h0.9M394.0 210.9h0.9M383.5 230.2h0.9M390.1 229.0h0.9M394.6 215.2h0.9M393.0 218.6h0.9M391.3 224.2h0.9M389.5 210.5h0.9M391.8 222.2h0.9M393.1 212.6h0.9M391.2 220.1h0.9M387.5 219.6h0.9M388.5 209.8h0.9M386.8 217.9h0.9M392.8 220.6h0.9M398.4 227.4h0.9M391.9 223.8h0.9M381.6 225.2h0.9M397.5 213.0h0.9M397.8 227.5h0.9M391.7 218.2h0.9M390.1 215.0h0.9M389.9 222.5h0.9M390.4 211.2h0.9M395.5 216.2h0.9M392.3 227.2h0.9M388.8 243.7h0.9M390.7 225.7h0.9M388.5 224.9h0.9M382.5 227.7h0.9M387.8 217.5h0.9M394.5 230.0h0.9M387.5 213.0h0.9M378.1 213.2h0.9M392.9 227.6h0.9M382.6 222.4h0.9M396.2 215.3h0.9M386.7 214.0h0.9M392.4 205.3h0.9M389.2 226.1h0.9M397.8 209.8h0.9M398.6 202.6h0.9M387.6 209.3h0.9M398.6 204.2h0.9M394.7 204.0h0.9M404.8 203.5h0.9M398.1 200.3h0.9M413.5 196.1h0.9M391.6 215.0h0.9M393.5 205.6h0.9M392.5 212.2h0.9M398.3 206.0h0.9M392.4 205.4h0.9M396.9 205.0h0.9M396.1 209.6h0.9M404.8 196.8h0.9M400.2 200.2h0.9M402.5 204.5h0.9M396.7 207.4h0.9M390.6 210.0h0.9M403.4 204.2h0.9M407.3 193.0h0.9M393.4 209.6h0.9M395.3 205.4h0.9M393.3 208.8h0.9M403.4 200.3h0.9M392.2 211.6h0.9M378.5 217.8h0.9M392.9 211.0h0.9M381.9 217.9h0.9M391.8 214.9h0.9M399.8 201.9h0.9M396.2 201.6h0.9M397.9 206.6h0.9M401.4 200.5h0.9M384.9 219.9h0.9M388.4 211.0h0.9M397.5 213.1h0.9M398.3 210.2h0.9M393.4 203.0h0.9M399.9 206.0h0.9M389.2 205.7h0.9M399.5 206.1h0.9M402.9 203.8h0.9M384.1 210.8h0.9M403.9 206.4h0.9M404.2 203.8h0.9M398.0 209.6h0.9M406.4 200.6h0.9M406.1 203.9h0.9M394.3 213.6h0.9M389.4 208.4h0.9M402.0 194.6h0.9M396.9 210.3h0.9M397.5 204.0h0.9M391.6 213.0h0.9M399.0 204.1h0.9M387.1 208.1h0.9M395.9 206.9h0.9M400.3 202.0h0.9M398.8 199.3h0.9M387.8 218.1h0.9M391.7 206.9h0.9M392.5 204.5h0.9M391.0 205.1h0.9M395.8 204.6h0.9M395.7 207.3h0.9M394.9 200.3h0.9M396.4 205.5h0.9M388.6 212.1h0.9M400.0 205.7h0.9M407.1 196.2h0.9M401.1 211.3h0.9M390.7 207.8h0.9M392.0 207.8h0.9M396.2 207.5h0.9M389.1 207.8h0.9M393.0 204.1h0.9M392.0 211.9h0.9M393.3 204.9h0.9M385.4 211.5h0.9M388.4 215.8h0.9M401.1 204.1h0.9M396.8 204.2h0.9M397.1 206.3h0.9M395.2 205.5h0.9M390.3 213.1h0.9M395.9 202.2h0.9M394.6 208.1h0.9M395.2 200.1h0.9M384.7 210.4h0.9M386.3 210.4h0.9M398.5 199.8h0.9M409.2 197.1h0.9M400.0 203.4h0.9M401.9 203.7h0.9M402.0 204.5h0.9M400.5 204.9h0.9M402.5 201.6h0.9M396.4 213.7h0.9M394.0 210.4h0.9M407.1 194.9h0.9M392.9 206.6h0.9M391.9 213.3h0.9M395.1 208.3h0.9M387.0 216.7h0.9M387.6 205.6h0.9M388.3 206.4h0.9M401.8 194.8h0.9M395.4 202.9h0.9M388.4 207.7h0.9M400.8 198.1h0.9M392.8 210.7h0.9M395.3 210.6h0.9M388.1 206.5h0.9M401.3 207.8h0.9M397.3 202.2h0.9M404.6 203.2h0.9M394.7 210.0h0.9M396.1 207.4h0.9M401.7 206.1h0.9M396.7 206.7h0.9M379.6 217.2h0.9M397.0 202.6h0.9M397.8 204.6h0.9M396.6 206.9h0.9M404.9 201.8h0.9M393.7 203.7h0.9M395.9 202.4h0.9M401.8 199.1h0.9M392.0 209.7h0.9M391.2 213.2h0.9M396.5 203.6h0.9M396.9 214.4h0.9M404.1 202.7h0.9M401.0 209.5h0.9M393.2 208.2h0.9M392.9 204.9h0.9M394.8 216.1h0.9M402.2 198.9h0.9M401.4 200.8h0.9M401.3 202.2h0.9M394.8 202.2h0.9M401.9 201.2h0.9M398.6 204.4h0.9M401.3 203.1h0.9M404.0 203.7h0.9M409.2 197.9h0.9M404.5 202.5h0.9M406.5 199.6h0.9M405.3 197.9h0.9M406.7 199.6h0.9M404.3 199.4h0.9M402.5 203.3h0.9M399.6 200.5h0.9M411.1 198.0h0.9M402.4 205.9h0.9M396.5 208.4h0.9M406.0 199.3h0.9M403.6 203.0h0.9M403.3 197.3h0.9M402.0 205.1h0.9M404.1 196.6h0.9M398.4 206.3h0.9M399.0 202.2h0.9M401.6 203.0h0.9M396.9 208.6h0.9M403.2 203.8h0.9M397.6 202.9h0.9M406.4 201.3h0.9M402.4 200.5h0.9M409.7 198.8h0.9M403.8 199.6h0.9M408.8 198.4h0.9M404.1 204.7h0.9M407.5 198.0h0.9M406.0 200.9h0.9M399.6 200.2h0.9M405.0 194.3h0.9M395.4 203.0h0.9M406.6 201.3h0.9M402.8 205.3h0.9M411.3 198.4h0.9M400.4 207.3h0.9M410.2 192.3h0.9M399.2 208.3h0.9M405.0 199.3h0.9M400.3 198.0h0.9M400.4 203.9h0.9M406.3 201.2h0.9M405.9 197.2h0.9M405.1 203.8h0.9M399.0 206.1h0.9M400.4 204.0h0.9M410.6 196.0h0.9M400.4 201.1h0.9M398.0 205.2h0.9M394.7 207.8h0.9M402.2 198.9h0.9M342.2 246.8h0.9M357.0 242.7h0.9M353.5 242.0h0.9M362.1 240.4h0.9M349.6 246.4h0.9M352.0 241.5h0.9M345.7 244.5h0.9M351.5 242.0h0.9M361.1 240.8h0.9M361.3 236.4h0.9M349.3 237.2h0.9M351.1 244.5h0.9M352.6 242.2h0.9M346.3 235.3h0.9M354.8 241.3h0.9M357.1 233.1h0.9M346.3 233.0h0.9M356.7 237.6h0.9M340.2 245.4h0.9M347.6 242.3h0.9M347.4 246.5h0.9M350.4 242.4h0.9M348.1 245.8h0.9M356.9 239.5h0.9M354.9 233.9h0.9M342.1 238.6h0.9M342.5 243.7h0.9M337.6 233.7h0.9M349.7 237.0h0.9M348.6 241.5h0.9M343.0 239.2h0.9M354.8 241.1h0.9M348.7 244.4h0.9M342.6 235.3h0.9M355.9 245.5h0.9M344.4 233.2h0.9M339.6 235.4h0.9M352.5 242.5h0.9M338.2 242.3h0.9M358.9 245.6h0.9M342.8 245.7h0.9M338.8 236.5h0.9M345.5 244.7h0.9M337.3 242.3h0.9M345.4 238.9h0.9M338.3 243.1h0.9M349.3 243.2h0.9M349.5 240.6h0.9M341.3 241.0h0.9M354.2 241.8h0.9M352.3 245.3h0.9M350.7 239.9h0.9M346.8 240.3h0.9M348.9 245.0h0.9M354.8 237.7h0.9M347.6 246.7h0.9M343.5 241.3h0.9M341.6 234.1h0.9M338.2 241.9h0.9M350.6 228.6h0.9M346.2 240.0h0.9M340.5 246.1h0.9M339.0 236.1h0.9M359.2 237.5h0.9M344.8 233.4h0.9M345.9 239.8h0.9M348.2 237.4h0.9M338.3 241.3h0.9M345.6 232.6h0.9M338.3 243.3h0.9M355.1 240.8h0.9M343.5 228.8h0.9M360.0 245.4h0.9M342.2 235.9h0.9M351.9 231.4h0.9M353.6 245.6h0.9M338.7 235.9h0.9M361.9 238.7h0.9M349.4 239.4h0.9M360.7 238.2h0.9M336.4 239.5h0.9M337.6 233.4h0.9M343.3 228.1h0.9M338.7 241.2h0.9M342.4 235.6h0.9M367.3 244.8h0.9M344.1 246.3h0.9M353.0 241.9h0.9M353.8 239.3h0.9M340.9 241.6h0.9M347.6 245.7h0.9M352.0 241.0h0.9" stroke="#2846e6" stroke-width="0.9"/><polygon points="348,248 350,238 361,226 374,216 386,210 393,207 396,212 392,222 393,236 391,248" fill="#2a48e4" filter="url(#bl15)" opacity="0.8"/><ellipse cx="368" cy="233" rx="14" ry="9" fill="#2a48e4" transform="rotate(-25 368 233)" filter="url(#bl15)" opacity="0.95"/><ellipse cx="368.5" cy="230.5" rx="12.5" ry="10" fill="url(#fcore)" transform="rotate(-25 368.5 230.5)"/><ellipse cx="384" cy="232" rx="5" ry="9.5" fill="url(#fcore2)" transform="rotate(0 384 232)"/></g>
<rect x="356.7" y="246.0" width="0.9" height="0.9" fill="#e03020"/>
<rect x="362.5" y="246.0" width="0.9" height="0.9" fill="#e03020"/>
<rect x="378.5" y="246.0" width="0.9" height="0.9" fill="#e03020"/>
<rect x="384.6" y="246.0" width="0.9" height="0.9" fill="#e03020"/>
<rect x="363.9" y="246.0" width="0.9" height="0.9" fill="#e03020"/>
<rect x="360.2" y="246.0" width="0.9" height="0.9" fill="#e03020"/>
<rect x="361.8" y="246.0" width="0.9" height="0.9" fill="#e03020"/>
<rect x="373.6" y="246.0" width="0.9" height="0.9" fill="#e03020"/>
<rect x="368.3" y="246.0" width="0.9" height="0.9" fill="#e03020"/>
<rect x="355.6" y="246.0" width="0.9" height="0.9" fill="#e03020"/>
<rect x="369.9" y="246.0" width="0.9" height="0.9" fill="#e03020"/>
<rect x="360.9" y="246.0" width="0.9" height="0.9" fill="#e03020"/>
<rect x="356.5" y="246.0" width="0.9" height="0.9" fill="#e03020"/>
<rect x="379.1" y="246.0" width="0.9" height="0.9" fill="#e03020"/>
<line x1="335.80" y1="212.80" x2="414.00" y2="212.80" stroke="#5a6af0" stroke-width="0.7"/>
<line x1="379.40" y1="212.10" x2="379.40" y2="247.20" stroke="#5a6af0" stroke-width="0.7"/>
<rect x="379.4" y="179.5" width="34.60000000000002" height="32.599999999999994" fill="none" stroke="#111" stroke-width="1.2"/>
<line x1="335.80" y1="179.50" x2="335.80" y2="247.20" stroke="#555" stroke-width="0.7"/>
<line x1="335.80" y1="247.20" x2="414.00" y2="247.20" stroke="#555" stroke-width="0.7"/>
<line x1="333.80" y1="179.50" x2="335.80" y2="179.50" stroke="#333" stroke-width="0.7"/>
<text x="331.30" y="181.80" font-size="6.4" text-anchor="end" fill="#000">1e3</text>
<line x1="334.80" y1="191.35" x2="335.80" y2="191.35" stroke="#555" stroke-width="0.5"/>
<line x1="334.80" y1="188.30" x2="335.80" y2="188.30" stroke="#555" stroke-width="0.5"/>
<line x1="334.80" y1="186.27" x2="335.80" y2="186.27" stroke="#555" stroke-width="0.5"/>
<line x1="334.80" y1="184.58" x2="335.80" y2="184.58" stroke="#555" stroke-width="0.5"/>
<line x1="334.80" y1="183.22" x2="335.80" y2="183.22" stroke="#555" stroke-width="0.5"/>
<line x1="334.80" y1="182.04" x2="335.80" y2="182.04" stroke="#555" stroke-width="0.5"/>
<line x1="334.80" y1="181.19" x2="335.80" y2="181.19" stroke="#555" stroke-width="0.5"/>
<line x1="334.80" y1="180.35" x2="335.80" y2="180.35" stroke="#555" stroke-width="0.5"/>
<line x1="333.80" y1="196.43" x2="335.80" y2="196.43" stroke="#333" stroke-width="0.7"/>
<text x="331.30" y="198.73" font-size="6.4" text-anchor="end" fill="#000">1e2</text>
<line x1="334.80" y1="208.27" x2="335.80" y2="208.27" stroke="#555" stroke-width="0.5"/>
<line x1="334.80" y1="205.23" x2="335.80" y2="205.23" stroke="#555" stroke-width="0.5"/>
<line x1="334.80" y1="203.20" x2="335.80" y2="203.20" stroke="#555" stroke-width="0.5"/>
<line x1="334.80" y1="201.50" x2="335.80" y2="201.50" stroke="#555" stroke-width="0.5"/>
<line x1="334.80" y1="200.15" x2="335.80" y2="200.15" stroke="#555" stroke-width="0.5"/>
<line x1="334.80" y1="198.96" x2="335.80" y2="198.96" stroke="#555" stroke-width="0.5"/>
<line x1="334.80" y1="198.12" x2="335.80" y2="198.12" stroke="#555" stroke-width="0.5"/>
<line x1="334.80" y1="197.27" x2="335.80" y2="197.27" stroke="#555" stroke-width="0.5"/>
<line x1="333.80" y1="213.35" x2="335.80" y2="213.35" stroke="#333" stroke-width="0.7"/>
<text x="331.30" y="215.65" font-size="6.4" text-anchor="end" fill="#000">1e1</text>
<line x1="334.80" y1="225.20" x2="335.80" y2="225.20" stroke="#555" stroke-width="0.5"/>
<line x1="334.80" y1="222.15" x2="335.80" y2="222.15" stroke="#555" stroke-width="0.5"/>
<line x1="334.80" y1="220.12" x2="335.80" y2="220.12" stroke="#555" stroke-width="0.5"/>
<line x1="334.80" y1="218.43" x2="335.80" y2="218.43" stroke="#555" stroke-width="0.5"/>
<line x1="334.80" y1="217.07" x2="335.80" y2="217.07" stroke="#555" stroke-width="0.5"/>
<line x1="334.80" y1="215.89" x2="335.80" y2="215.89" stroke="#555" stroke-width="0.5"/>
<line x1="334.80" y1="215.04" x2="335.80" y2="215.04" stroke="#555" stroke-width="0.5"/>
<line x1="334.80" y1="214.20" x2="335.80" y2="214.20" stroke="#555" stroke-width="0.5"/>
<line x1="333.80" y1="230.27" x2="335.80" y2="230.27" stroke="#333" stroke-width="0.7"/>
<text x="331.30" y="232.57" font-size="6.4" text-anchor="end" fill="#000">1e0</text>
<line x1="334.80" y1="242.12" x2="335.80" y2="242.12" stroke="#555" stroke-width="0.5"/>
<line x1="334.80" y1="239.08" x2="335.80" y2="239.08" stroke="#555" stroke-width="0.5"/>
<line x1="334.80" y1="237.04" x2="335.80" y2="237.04" stroke="#555" stroke-width="0.5"/>
<line x1="334.80" y1="235.35" x2="335.80" y2="235.35" stroke="#555" stroke-width="0.5"/>
<line x1="334.80" y1="234.00" x2="335.80" y2="234.00" stroke="#555" stroke-width="0.5"/>
<line x1="334.80" y1="232.81" x2="335.80" y2="232.81" stroke="#555" stroke-width="0.5"/>
<line x1="334.80" y1="231.97" x2="335.80" y2="231.97" stroke="#555" stroke-width="0.5"/>
<line x1="334.80" y1="231.12" x2="335.80" y2="231.12" stroke="#555" stroke-width="0.5"/>
<line x1="333.80" y1="247.20" x2="335.80" y2="247.20" stroke="#333" stroke-width="0.7"/>
<text x="331.30" y="249.50" font-size="6.4" text-anchor="end" fill="#000">1e−1</text>
<line x1="335.80" y1="247.20" x2="335.80" y2="249.20" stroke="#333" stroke-width="0.7"/>
<text x="340.00" y="260.00" font-size="6.4" text-anchor="middle" fill="#000">1e−1</text>
<line x1="341.67" y1="247.20" x2="341.67" y2="248.30" stroke="#555" stroke-width="0.5"/>
<line x1="345.18" y1="247.20" x2="345.18" y2="248.30" stroke="#555" stroke-width="0.5"/>
<line x1="347.53" y1="247.20" x2="347.53" y2="248.30" stroke="#555" stroke-width="0.5"/>
<line x1="349.49" y1="247.20" x2="349.49" y2="248.30" stroke="#555" stroke-width="0.5"/>
<line x1="351.05" y1="247.20" x2="351.05" y2="248.30" stroke="#555" stroke-width="0.5"/>
<line x1="352.42" y1="247.20" x2="352.42" y2="248.30" stroke="#555" stroke-width="0.5"/>
<line x1="353.39" y1="247.20" x2="353.39" y2="248.30" stroke="#555" stroke-width="0.5"/>
<line x1="354.37" y1="247.20" x2="354.37" y2="248.30" stroke="#555" stroke-width="0.5"/>
<line x1="355.35" y1="247.20" x2="355.35" y2="249.20" stroke="#333" stroke-width="0.7"/>
<text x="356.40" y="260.00" font-size="6.4" text-anchor="middle" fill="#000">1e0</text>
<line x1="361.22" y1="247.20" x2="361.22" y2="248.30" stroke="#555" stroke-width="0.5"/>
<line x1="364.73" y1="247.20" x2="364.73" y2="248.30" stroke="#555" stroke-width="0.5"/>
<line x1="367.08" y1="247.20" x2="367.08" y2="248.30" stroke="#555" stroke-width="0.5"/>
<line x1="369.04" y1="247.20" x2="369.04" y2="248.30" stroke="#555" stroke-width="0.5"/>
<line x1="370.60" y1="247.20" x2="370.60" y2="248.30" stroke="#555" stroke-width="0.5"/>
<line x1="371.97" y1="247.20" x2="371.97" y2="248.30" stroke="#555" stroke-width="0.5"/>
<line x1="372.95" y1="247.20" x2="372.95" y2="248.30" stroke="#555" stroke-width="0.5"/>
<line x1="373.92" y1="247.20" x2="373.92" y2="248.30" stroke="#555" stroke-width="0.5"/>
<line x1="374.90" y1="247.20" x2="374.90" y2="249.20" stroke="#333" stroke-width="0.7"/>
<text x="375.70" y="260.00" font-size="6.4" text-anchor="middle" fill="#000">1e1</text>
<line x1="380.76" y1="247.20" x2="380.76" y2="248.30" stroke="#555" stroke-width="0.5"/>
<line x1="384.28" y1="247.20" x2="384.28" y2="248.30" stroke="#555" stroke-width="0.5"/>
<line x1="386.63" y1="247.20" x2="386.63" y2="248.30" stroke="#555" stroke-width="0.5"/>
<line x1="388.58" y1="247.20" x2="388.58" y2="248.30" stroke="#555" stroke-width="0.5"/>
<line x1="390.15" y1="247.20" x2="390.15" y2="248.30" stroke="#555" stroke-width="0.5"/>
<line x1="391.52" y1="247.20" x2="391.52" y2="248.30" stroke="#555" stroke-width="0.5"/>
<line x1="392.50" y1="247.20" x2="392.50" y2="248.30" stroke="#555" stroke-width="0.5"/>
<line x1="393.47" y1="247.20" x2="393.47" y2="248.30" stroke="#555" stroke-width="0.5"/>
<line x1="394.45" y1="247.20" x2="394.45" y2="249.20" stroke="#333" stroke-width="0.7"/>
<text x="395.20" y="260.00" font-size="6.4" text-anchor="middle" fill="#000">1e2</text>
<line x1="400.31" y1="247.20" x2="400.31" y2="248.30" stroke="#555" stroke-width="0.5"/>
<line x1="403.83" y1="247.20" x2="403.83" y2="248.30" stroke="#555" stroke-width="0.5"/>
<line x1="406.18" y1="247.20" x2="406.18" y2="248.30" stroke="#555" stroke-width="0.5"/>
<line x1="408.13" y1="247.20" x2="408.13" y2="248.30" stroke="#555" stroke-width="0.5"/>
<line x1="409.70" y1="247.20" x2="409.70" y2="248.30" stroke="#555" stroke-width="0.5"/>
<line x1="411.07" y1="247.20" x2="411.07" y2="248.30" stroke="#555" stroke-width="0.5"/>
<line x1="412.04" y1="247.20" x2="412.04" y2="248.30" stroke="#555" stroke-width="0.5"/>
<line x1="413.02" y1="247.20" x2="413.02" y2="248.30" stroke="#555" stroke-width="0.5"/>
<line x1="414.00" y1="247.20" x2="414.00" y2="249.20" stroke="#333" stroke-width="0.7"/>
<text x="414.00" y="260.00" font-size="6.4" text-anchor="middle" fill="#000">1e3</text>
<text x="337.60" y="183.80" font-size="5.4" text-anchor="start" fill="#3c40e8">0.00%-#</text>
<text x="381.00" y="183.80" font-size="5.4" text-anchor="start" fill="#3c40e8">3.47%-#</text>
<text x="337.60" y="218.20" font-size="5.4" text-anchor="start" fill="#3c40e8">2.21%-#</text>
<text x="381.00" y="218.20" font-size="5.4" text-anchor="start" fill="#3c40e8">4.45%-#</text>
<text x="265.00" y="172.00" font-size="7.8" text-anchor="middle" fill="#000">Non-immune</text>
<text x="375.00" y="172.00" font-size="7.8" text-anchor="middle" fill="#000">Immune</text>
<line x1="194.00" y1="175.00" x2="194.00" y2="250.00" stroke="#000" stroke-width="1.5"/>
<polyline points="190.2,179.5 194,173.2 197.8,179.5" fill="none" stroke="#000" stroke-width="1.5"/>
<text x="187.80" y="211.50" font-size="7.8" text-anchor="middle" fill="#000" transform="rotate(-90 187.8 211.5)">IL17</text>
<line x1="204.00" y1="269.00" x2="409.00" y2="269.00" stroke="#000" stroke-width="1.5"/>
<polyline points="403.5,265.2 409.8,269 403.5,272.8" fill="none" stroke="#000" stroke-width="1.5"/>
<text x="316.00" y="279.30" font-size="7.8" text-anchor="middle" fill="#000">CD3 CD4</text>
<line x1="45.00" y1="310.60" x2="45.00" y2="374.00" stroke="#000" stroke-width="0.8"/>
<line x1="41.40" y1="310.60" x2="45.00" y2="310.60" stroke="#000" stroke-width="0.8"/>
<text x="37.80" y="313.34" font-size="7.6" text-anchor="end" fill="#000">1.0</text>
<line x1="41.40" y1="323.28" x2="45.00" y2="323.28" stroke="#000" stroke-width="0.8"/>
<text x="37.80" y="326.02" font-size="7.6" text-anchor="end" fill="#000">0.8</text>
<line x1="41.40" y1="335.96" x2="45.00" y2="335.96" stroke="#000" stroke-width="0.8"/>
<text x="37.80" y="338.70" font-size="7.6" text-anchor="end" fill="#000">0.6</text>
<line x1="41.40" y1="348.64" x2="45.00" y2="348.64" stroke="#000" stroke-width="0.8"/>
<text x="37.80" y="351.38" font-size="7.6" text-anchor="end" fill="#000">0.4</text>
<line x1="41.40" y1="361.32" x2="45.00" y2="361.32" stroke="#000" stroke-width="0.8"/>
<text x="37.80" y="364.06" font-size="7.6" text-anchor="end" fill="#000">0.2</text>
<line x1="41.40" y1="374.00" x2="45.00" y2="374.00" stroke="#000" stroke-width="0.8"/>
<text x="37.80" y="376.74" font-size="7.6" text-anchor="end" fill="#000">0.0</text>
<line x1="45.00" y1="374.00" x2="207.00" y2="374.00" stroke="#000" stroke-width="0.8"/>
<line x1="65.80" y1="365.20" x2="65.80" y2="362.70" stroke="#000" stroke-width="1.0"/>
<line x1="59.40" y1="362.70" x2="72.20" y2="362.70" stroke="#000" stroke-width="1.0"/>
<rect x="52.40" y="365.70" width="26.80" height="8.30" fill="#d2d2d2" stroke="#000" stroke-width="1.0"/>
<line x1="106.10" y1="333.00" x2="106.10" y2="324.00" stroke="#000" stroke-width="1.0"/>
<line x1="98.60" y1="324.00" x2="113.60" y2="324.00" stroke="#000" stroke-width="1.0"/>
<rect x="92.70" y="333.50" width="26.80" height="40.50" fill="#323232" stroke="#000" stroke-width="1.0"/>
<line x1="145.85" y1="356.00" x2="145.85" y2="353.70" stroke="#000" stroke-width="1.0"/>
<line x1="139.35" y1="353.70" x2="152.35" y2="353.70" stroke="#000" stroke-width="1.0"/>
<rect x="132.60" y="356.50" width="26.50" height="17.50" fill="url(#hstripe)" stroke="#000" stroke-width="1.0"/>
<line x1="185.75" y1="358.10" x2="185.75" y2="353.30" stroke="#000" stroke-width="1.0"/>
<line x1="179.25" y1="353.30" x2="192.25" y2="353.30" stroke="#000" stroke-width="1.0"/>
<rect x="172.50" y="358.60" width="26.50" height="15.40" fill="url(#vstripe)" stroke="#000" stroke-width="1.0"/>
<line x1="65.80" y1="374.00" x2="65.80" y2="376.00" stroke="#000" stroke-width="0.8"/>
<line x1="106.10" y1="374.00" x2="106.10" y2="376.00" stroke="#000" stroke-width="0.8"/>
<line x1="145.90" y1="374.00" x2="145.90" y2="376.00" stroke="#000" stroke-width="0.8"/>
<line x1="185.80" y1="374.00" x2="185.80" y2="376.00" stroke="#000" stroke-width="0.8"/>
<line x1="67.70" y1="319.40" x2="104.00" y2="319.40" stroke="#000" stroke-width="0.8"/>
<text x="85.85" y="319.21" font-size="9.5" text-anchor="middle" fill="#000" font-weight="bold">***</text>
<line x1="67.00" y1="299.50" x2="160.60" y2="299.50" stroke="#000" stroke-width="0.8"/>
<text x="110.50" y="299.01" font-size="9.5" text-anchor="middle" fill="#000" font-weight="bold">**</text>
<line x1="160.60" y1="299.50" x2="160.60" y2="334.90" stroke="#000" stroke-width="0.8"/>
<line x1="132.00" y1="334.90" x2="189.40" y2="334.90" stroke="#000" stroke-width="0.8"/>
<text x="17.00" y="342.00" font-size="7.8" text-anchor="middle" fill="#000" transform="rotate(-90 17 342)">Spleen weight (g)</text>
<text x="0" y="0" font-size="8" text-anchor="end" transform="translate(64.60 381.80) rotate(-45)">Non-immune</text>
<text x="0" y="0" font-size="8" text-anchor="end" transform="translate(70.96 388.16) rotate(-45)">X WT pregnant</text>
<text x="0" y="0" font-size="8" text-anchor="end" transform="translate(104.80 382.00) rotate(-45)">Immune</text>
<text x="0" y="0" font-size="8" text-anchor="end" transform="translate(111.16 388.36) rotate(-45)">X WT pregnant</text>
<text x="0" y="0" font-size="8" text-anchor="end" transform="translate(145.10 381.60) rotate(-45)">Immune X β3<tspan font-size="5" dy="-3.2">−/−</tspan></text>
<text x="0" y="0" font-size="8" text-anchor="end" transform="translate(151.46 387.96) rotate(-45)">pregnant</text>
<text x="0" y="0" font-size="8" text-anchor="end" transform="translate(185.60 382.50) rotate(-45)">Immune</text>
<text x="0" y="0" font-size="8" text-anchor="end" transform="translate(191.96 388.86) rotate(-45)">non-pregnant</text>
<rect x="257.50" y="308.30" width="147.00" height="77.30" fill="url(#stripes)" stroke="none" stroke-width="0.8"/>
<rect x="257.50" y="308.30" width="20.00" height="61.00" fill="#e8edf6" stroke="none" stroke-width="0.8"/>
<rect x="257.50" y="369.30" width="20.00" height="16.30" fill="#e4e6ea" stroke="none" stroke-width="0.8"/>
<line x1="264.50" y1="309.50" x2="277.50" y2="309.50" stroke="#2e3444" stroke-width="0.8"/>
<line x1="268.50" y1="311.50" x2="277.50" y2="311.50" stroke="#2e3444" stroke-width="0.8"/>
<line x1="268.50" y1="313.50" x2="277.50" y2="313.50" stroke="#2e3444" stroke-width="0.8"/>
<line x1="268.50" y1="315.50" x2="277.50" y2="315.50" stroke="#2e3444" stroke-width="0.8"/>
<line x1="268.50" y1="317.50" x2="277.50" y2="317.50" stroke="#2e3444" stroke-width="0.8"/>
<line x1="266.50" y1="319.50" x2="277.50" y2="319.50" stroke="#2e3444" stroke-width="0.8"/>
<line x1="268.50" y1="321.50" x2="277.50" y2="321.50" stroke="#2e3444" stroke-width="0.8"/>
<line x1="268.50" y1="323.50" x2="277.50" y2="323.50" stroke="#2e3444" stroke-width="0.8"/>
<line x1="268.50" y1="325.50" x2="277.50" y2="325.50" stroke="#2e3444" stroke-width="0.8"/>
<line x1="268.50" y1="327.50" x2="277.50" y2="327.50" stroke="#2e3444" stroke-width="0.8"/>
<line x1="264.50" y1="329.50" x2="277.50" y2="329.50" stroke="#2e3444" stroke-width="0.8"/>
<line x1="268.50" y1="331.50" x2="277.50" y2="331.50" stroke="#2e3444" stroke-width="0.8"/>
<line x1="268.50" y1="333.50" x2="277.50" y2="333.50" stroke="#2e3444" stroke-width="0.8"/>
<line x1="268.50" y1="335.50" x2="277.50" y2="335.50" stroke="#2e3444" stroke-width="0.8"/>
<line x1="268.50" y1="337.50" x2="277.50" y2="337.50" stroke="#2e3444" stroke-width="0.8"/>
<line x1="266.50" y1="339.50" x2="277.50" y2="339.50" stroke="#2e3444" stroke-width="0.8"/>
<line x1="268.50" y1="341.50" x2="277.50" y2="341.50" stroke="#2e3444" stroke-width="0.8"/>
<line x1="268.50" y1="343.50" x2="277.50" y2="343.50" stroke="#2e3444" stroke-width="0.8"/>
<line x1="268.50" y1="345.50" x2="277.50" y2="345.50" stroke="#2e3444" stroke-width="0.8"/>
<line x1="268.50" y1="347.50" x2="277.50" y2="347.50" stroke="#2e3444" stroke-width="0.8"/>
<line x1="264.50" y1="349.50" x2="277.50" y2="349.50" stroke="#2e3444" stroke-width="0.8"/>
<line x1="268.50" y1="351.50" x2="277.50" y2="351.50" stroke="#2e3444" stroke-width="0.8"/>
<line x1="268.50" y1="353.50" x2="277.50" y2="353.50" stroke="#2e3444" stroke-width="0.8"/>
<line x1="268.50" y1="355.50" x2="277.50" y2="355.50" stroke="#2e3444" stroke-width="0.8"/>
<line x1="268.50" y1="357.50" x2="277.50" y2="357.50" stroke="#2e3444" stroke-width="0.8"/>
<line x1="266.50" y1="359.50" x2="277.50" y2="359.50" stroke="#2e3444" stroke-width="0.8"/>
<line x1="268.50" y1="361.50" x2="277.50" y2="361.50" stroke="#2e3444" stroke-width="0.8"/>
<line x1="268.50" y1="363.50" x2="277.50" y2="363.50" stroke="#2e3444" stroke-width="0.8"/>
<line x1="268.50" y1="365.50" x2="277.50" y2="365.50" stroke="#2e3444" stroke-width="0.8"/>
<line x1="268.50" y1="367.50" x2="277.50" y2="367.50" stroke="#2e3444" stroke-width="0.8"/>
<text x="266" y="323" font-size="4" fill="#303848" transform="rotate(-90 266 323)">1</text>
<text x="266" y="343.5" font-size="4" fill="#303848" transform="rotate(-90 266 343.5)">2</text>
<path d="M286.7 330.0 C287.7 328.6,289.2 326.8,290.9 326.7 C292.6 326.6,295.2 327.9,296.7 329.2 C298.2 330.4,299.7 331.7,299.7 334.2 C299.7 336.7,297.3 340.7,296.7 344.2 C296.1 347.7,296.2 351.3,295.9 355.1 C295.6 358.9,296.2 363.8,294.7 366.8 C293.2 369.9,289.0 372.8,286.7 373.4 C284.4 373.9,282.0 372.3,280.9 370.1 C279.8 367.9,279.7 363.7,280.0 360.1 C280.3 356.5,281.7 352.6,282.5 348.4 C283.3 344.2,284.3 338.1,285.0 335.0 C285.7 331.9,285.7 331.4,286.7 330.0Z" fill="none" stroke="#e0a0a8" stroke-width="2" opacity="0.7" filter="url(#bl05)"/>
<path d="M286.7 330.0 C287.7 328.6,289.2 326.8,290.9 326.7 C292.6 326.6,295.2 327.9,296.7 329.2 C298.2 330.4,299.7 331.7,299.7 334.2 C299.7 336.7,297.3 340.7,296.7 344.2 C296.1 347.7,296.2 351.3,295.9 355.1 C295.6 358.9,296.2 363.8,294.7 366.8 C293.2 369.9,289.0 372.8,286.7 373.4 C284.4 373.9,282.0 372.3,280.9 370.1 C279.8 367.9,279.7 363.7,280.0 360.1 C280.3 356.5,281.7 352.6,282.5 348.4 C283.3 344.2,284.3 338.1,285.0 335.0 C285.7 331.9,285.7 331.4,286.7 330.0Z" fill="url(#spl)" stroke="#901828" stroke-width="0.6"/>
<path d="M332.1 312.3 C335.2 312.1,339.4 313.5,341.3 315.3 C343.2 317.1,343.6 320.9,343.6 323.4 C343.6 325.9,342.8 327.6,341.3 330.3 C339.8 333.0,336.7 336.0,334.4 339.4 C332.1 342.8,329.3 347.1,327.6 350.9 C325.9 354.7,324.7 359.1,324.1 362.4 C323.5 365.6,324.5 367.9,324.1 370.4 C323.7 372.9,323.0 376.3,321.8 377.3 C320.6 378.3,318.9 377.9,317.2 376.2 C315.5 374.5,312.8 370.4,311.5 367.0 C310.2 363.6,309.2 359.7,309.2 355.5 C309.2 351.3,310.2 346.7,311.5 341.7 C312.8 336.7,315.3 329.9,317.2 325.7 C319.1 321.5,320.5 318.7,323.0 316.5 C325.5 314.3,329.1 312.5,332.1 312.3Z" fill="none" stroke="#e0a0a8" stroke-width="2" opacity="0.7" filter="url(#bl05)"/>
<path d="M332.1 312.3 C335.2 312.1,339.4 313.5,341.3 315.3 C343.2 317.1,343.6 320.9,343.6 323.4 C343.6 325.9,342.8 327.6,341.3 330.3 C339.8 333.0,336.7 336.0,334.4 339.4 C332.1 342.8,329.3 347.1,327.6 350.9 C325.9 354.7,324.7 359.1,324.1 362.4 C323.5 365.6,324.5 367.9,324.1 370.4 C323.7 372.9,323.0 376.3,321.8 377.3 C320.6 378.3,318.9 377.9,317.2 376.2 C315.5 374.5,312.8 370.4,311.5 367.0 C310.2 363.6,309.2 359.7,309.2 355.5 C309.2 351.3,310.2 346.7,311.5 341.7 C312.8 336.7,315.3 329.9,317.2 325.7 C319.1 321.5,320.5 318.7,323.0 316.5 C325.5 314.3,329.1 312.5,332.1 312.3Z" fill="url(#spl)" stroke="#901828" stroke-width="0.6"/>
<path d="M358.6 337.1 C360.5 336.9,363.0 337.5,364.3 338.3 C365.6 339.1,367.2 340.0,366.6 341.7 C366.0 343.4,362.5 345.9,360.8 348.6 C359.1 351.3,357.2 354.7,356.3 357.8 C355.4 360.9,354.7 363.6,355.1 367.0 C355.5 370.4,358.2 375.8,358.6 378.5 C359.0 381.2,358.4 382.5,357.4 383.1 C356.4 383.7,354.5 383.4,352.8 381.9 C351.1 380.4,348.6 377.5,347.1 373.9 C345.6 370.3,343.8 364.5,343.6 360.1 C343.4 355.7,344.4 350.9,345.9 347.5 C347.4 344.1,350.7 341.1,352.8 339.4 C354.9 337.7,356.7 337.3,358.6 337.1Z" fill="none" stroke="#e0a0a8" stroke-width="2" opacity="0.7" filter="url(#bl05)"/>
<path d="M358.6 337.1 C360.5 336.9,363.0 337.5,364.3 338.3 C365.6 339.1,367.2 340.0,366.6 341.7 C366.0 343.4,362.5 345.9,360.8 348.6 C359.1 351.3,357.2 354.7,356.3 357.8 C355.4 360.9,354.7 363.6,355.1 367.0 C355.5 370.4,358.2 375.8,358.6 378.5 C359.0 381.2,358.4 382.5,357.4 383.1 C356.4 383.7,354.5 383.4,352.8 381.9 C351.1 380.4,348.6 377.5,347.1 373.9 C345.6 370.3,343.8 364.5,343.6 360.1 C343.4 355.7,344.4 350.9,345.9 347.5 C347.4 344.1,350.7 341.1,352.8 339.4 C354.9 337.7,356.7 337.3,358.6 337.1Z" fill="url(#spl)" stroke="#901828" stroke-width="0.6"/>
<path d="M382.7 337.1 C384.8 336.9,389.0 337.2,390.7 338.3 C392.4 339.4,393.2 341.5,393.0 344.0 C392.8 346.5,390.8 350.1,389.6 353.2 C388.5 356.3,386.9 359.3,386.1 362.4 C385.3 365.5,384.9 368.5,385.0 371.6 C385.1 374.7,386.8 378.7,386.8 380.8 C386.8 382.9,386.3 384.0,385.0 384.2 C383.7 384.4,381.1 384.0,379.2 381.9 C377.3 379.8,374.6 375.6,373.5 371.6 C372.4 367.6,372.1 362.0,372.3 357.8 C372.5 353.6,373.6 349.4,374.6 346.3 C375.6 343.2,376.8 340.9,378.1 339.4 C379.5 337.9,380.6 337.3,382.7 337.1Z" fill="none" stroke="#e0a0a8" stroke-width="2" opacity="0.7" filter="url(#bl05)"/>
<path d="M382.7 337.1 C384.8 336.9,389.0 337.2,390.7 338.3 C392.4 339.4,393.2 341.5,393.0 344.0 C392.8 346.5,390.8 350.1,389.6 353.2 C388.5 356.3,386.9 359.3,386.1 362.4 C385.3 365.5,384.9 368.5,385.0 371.6 C385.1 374.7,386.8 378.7,386.8 380.8 C386.8 382.9,386.3 384.0,385.0 384.2 C383.7 384.4,381.1 384.0,379.2 381.9 C377.3 379.8,374.6 375.6,373.5 371.6 C372.4 367.6,372.1 362.0,372.3 357.8 C372.5 353.6,373.6 349.4,374.6 346.3 C375.6 343.2,376.8 340.9,378.1 339.4 C379.5 337.9,380.6 337.3,382.7 337.1Z" fill="url(#spl)" stroke="#901828" stroke-width="0.6"/>
<ellipse cx="386" cy="340" rx="1.6" ry="1.3" fill="#f0d0d4" opacity="0.8"/>
<circle cx="333.8" cy="333.5" r="0.7" fill="#fff"/>
<rect x="257.5" y="308.3" width="147.0" height="77.3" fill="none" stroke="#555" stroke-width="0.9"/>
<text x="326.50" y="297.00" font-size="7.8" text-anchor="middle" fill="#000">Pregnant</text>
<line x1="283.90" y1="302.20" x2="368.70" y2="302.20" stroke="#444" stroke-width="0.8"/>
<text x="388.20" y="297.00" font-size="7.8" text-anchor="middle" fill="#000">Non-pregnant</text>
<line x1="381.00" y1="302.20" x2="396.80" y2="302.20" stroke="#444" stroke-width="0.8"/>
<text x="0" y="0" font-size="8" text-anchor="end" transform="translate(277.50 395.50) rotate(-45)">Non-immune</text>
<text x="0" y="0" font-size="8" text-anchor="end" transform="translate(283.86 401.86) rotate(-45)">X WT</text>
<text x="0" y="0" font-size="8" text-anchor="end" transform="translate(313.80 394.50) rotate(-45)">Immune X WT</text>
<text x="0" y="0" font-size="8" text-anchor="end" transform="translate(349.20 400.20) rotate(-45)">Immune X β3<tspan font-size="5" dy="-3.2">−/−</tspan></text>
<text x="0" y="0" font-size="8" text-anchor="end" transform="translate(385.50 393.30) rotate(-45)">Immune</text>
<text x="0.00" y="452.60" font-size="11.5" text-anchor="start" fill="#000" font-weight="bold">c</text>
<text x="237.60" y="452.40" font-size="7.8" text-anchor="middle" fill="#000">Plasma cytokines</text>
<rect x="134.60" y="456.30" width="9.00" height="7.00" fill="#d2d2d2" stroke="#555" stroke-width="0.8"/>
<text x="145.70" y="462.60" font-size="7.8" text-anchor="start" fill="#000">Non-immune</text>
<rect x="277.60" y="456.30" width="9.20" height="7.00" fill="#323232" stroke="#222" stroke-width="0.8"/>
<text x="290.50" y="462.60" font-size="7.8" text-anchor="start" fill="#000">Immune</text>
<line x1="35.00" y1="471.90" x2="35.00" y2="547.00" stroke="#000" stroke-width="0.8"/>
<line x1="33.20" y1="471.90" x2="35.00" y2="471.90" stroke="#000" stroke-width="0.8"/>
<text x="32.50" y="474.74" font-size="7.9" text-anchor="end" fill="#000">1000</text>
<line x1="33.20" y1="486.92" x2="35.00" y2="486.92" stroke="#000" stroke-width="0.8"/>
<text x="32.50" y="489.76" font-size="7.9" text-anchor="end" fill="#000">800</text>
<line x1="33.20" y1="501.94" x2="35.00" y2="501.94" stroke="#000" stroke-width="0.8"/>
<text x="32.50" y="504.78" font-size="7.9" text-anchor="end" fill="#000">600</text>
<line x1="33.20" y1="516.96" x2="35.00" y2="516.96" stroke="#000" stroke-width="0.8"/>
<text x="32.50" y="519.80" font-size="7.9" text-anchor="end" fill="#000">400</text>
<line x1="33.20" y1="531.98" x2="35.00" y2="531.98" stroke="#000" stroke-width="0.8"/>
<text x="32.50" y="534.82" font-size="7.9" text-anchor="end" fill="#000">200</text>
<line x1="33.20" y1="547.00" x2="35.00" y2="547.00" stroke="#000" stroke-width="0.8"/>
<text x="32.50" y="549.84" font-size="7.9" text-anchor="end" fill="#000">0</text>
<line x1="35.00" y1="547.00" x2="129.00" y2="547.00" stroke="#000" stroke-width="0.8"/>
<line x1="59.15" y1="512.50" x2="59.15" y2="509.00" stroke="#000" stroke-width="1.0"/>
<line x1="53.50" y1="509.00" x2="64.80" y2="509.00" stroke="#000" stroke-width="1.0"/>
<rect x="44.40" y="513.00" width="29.50" height="34.00" fill="#d2d2d2" stroke="#000" stroke-width="1.0"/>
<line x1="59.15" y1="547.00" x2="59.15" y2="549.00" stroke="#000" stroke-width="0.8"/>
<line x1="105.60" y1="492.20" x2="105.60" y2="485.00" stroke="#000" stroke-width="1.0"/>
<line x1="97.80" y1="485.00" x2="113.40" y2="485.00" stroke="#000" stroke-width="1.0"/>
<rect x="90.70" y="492.70" width="29.80" height="54.30" fill="#323232" stroke="#000" stroke-width="1.0"/>
<line x1="105.60" y1="547.00" x2="105.60" y2="549.00" stroke="#000" stroke-width="0.8"/>
<line x1="60.00" y1="479.40" x2="102.80" y2="479.40" stroke="#000" stroke-width="0.8"/>
<text x="81.40" y="478.31" font-size="9.5" text-anchor="middle" fill="#000" font-weight="bold">***</text>
<text x="7.90" y="511.30" font-size="7.8" text-anchor="middle" fill="#000" transform="rotate(-90 7.9 511.3)">IL12/23 in pg/ml</text>
<line x1="164.40" y1="477.00" x2="164.40" y2="547.30" stroke="#000" stroke-width="0.8"/>
<line x1="162.60" y1="477.00" x2="164.40" y2="477.00" stroke="#000" stroke-width="0.8"/>
<text x="161.90" y="479.84" font-size="7.9" text-anchor="end" fill="#000">600</text>
<line x1="162.60" y1="500.43" x2="164.40" y2="500.43" stroke="#000" stroke-width="0.8"/>
<text x="161.90" y="503.28" font-size="7.9" text-anchor="end" fill="#000">400</text>
<line x1="162.60" y1="523.87" x2="164.40" y2="523.87" stroke="#000" stroke-width="0.8"/>
<text x="161.90" y="526.71" font-size="7.9" text-anchor="end" fill="#000">200</text>
<line x1="162.60" y1="547.30" x2="164.40" y2="547.30" stroke="#000" stroke-width="0.8"/>
<text x="161.90" y="550.14" font-size="7.9" text-anchor="end" fill="#000">0</text>
<line x1="164.40" y1="547.30" x2="243.00" y2="547.30" stroke="#000" stroke-width="0.8"/>
<line x1="183.30" y1="526.80" x2="183.30" y2="521.50" stroke="#000" stroke-width="1.0"/>
<line x1="177.30" y1="521.50" x2="189.30" y2="521.50" stroke="#000" stroke-width="1.0"/>
<rect x="171.40" y="527.30" width="23.80" height="20.00" fill="#d2d2d2" stroke="#000" stroke-width="1.0"/>
<line x1="183.30" y1="547.30" x2="183.30" y2="549.30" stroke="#000" stroke-width="0.8"/>
<line x1="221.50" y1="507.70" x2="221.50" y2="502.70" stroke="#000" stroke-width="1.0"/>
<line x1="215.25" y1="502.70" x2="227.75" y2="502.70" stroke="#000" stroke-width="1.0"/>
<rect x="209.50" y="508.20" width="24.00" height="39.10" fill="#323232" stroke="#000" stroke-width="1.0"/>
<line x1="221.50" y1="547.30" x2="221.50" y2="549.30" stroke="#000" stroke-width="0.8"/>
<line x1="187.00" y1="496.20" x2="220.70" y2="496.20" stroke="#000" stroke-width="0.8"/>
<text x="203.85" y="494.20" font-size="8" text-anchor="middle" fill="#000" font-weight="bold">*</text>
<text x="141.40" y="510.40" font-size="7.8" text-anchor="middle" fill="#000" transform="rotate(-90 141.4 510.4)">IL17 in pg/ml</text>
<line x1="272.60" y1="477.00" x2="272.60" y2="546.60" stroke="#000" stroke-width="0.8"/>
<line x1="270.80" y1="477.00" x2="272.60" y2="477.00" stroke="#000" stroke-width="0.8"/>
<text x="270.10" y="479.84" font-size="7.9" text-anchor="end" fill="#000">30</text>
<line x1="270.80" y1="500.20" x2="272.60" y2="500.20" stroke="#000" stroke-width="0.8"/>
<text x="270.10" y="503.04" font-size="7.9" text-anchor="end" fill="#000">20</text>
<line x1="270.80" y1="523.40" x2="272.60" y2="523.40" stroke="#000" stroke-width="0.8"/>
<text x="270.10" y="526.24" font-size="7.9" text-anchor="end" fill="#000">10</text>
<line x1="270.80" y1="546.60" x2="272.60" y2="546.60" stroke="#000" stroke-width="0.8"/>
<text x="270.10" y="549.44" font-size="7.9" text-anchor="end" fill="#000">0</text>
<line x1="272.60" y1="546.60" x2="362.00" y2="546.60" stroke="#000" stroke-width="0.8"/>
<line x1="295.05" y1="536.50" x2="295.05" y2="534.80" stroke="#000" stroke-width="1.0"/>
<line x1="288.15" y1="534.80" x2="301.95" y2="534.80" stroke="#000" stroke-width="1.0"/>
<rect x="280.90" y="537.00" width="28.30" height="9.60" fill="#d2d2d2" stroke="#000" stroke-width="1.0"/>
<line x1="295.05" y1="546.60" x2="295.05" y2="548.60" stroke="#000" stroke-width="0.8"/>
<line x1="338.65" y1="495.20" x2="338.65" y2="487.70" stroke="#000" stroke-width="1.0"/>
<line x1="331.15" y1="487.70" x2="346.15" y2="487.70" stroke="#000" stroke-width="1.0"/>
<rect x="324.50" y="495.70" width="28.30" height="50.90" fill="#323232" stroke="#000" stroke-width="1.0"/>
<line x1="338.65" y1="546.60" x2="338.65" y2="548.60" stroke="#000" stroke-width="0.8"/>
<line x1="307.70" y1="482.40" x2="341.00" y2="482.40" stroke="#000" stroke-width="0.8"/>
<text x="324.35" y="481.61" font-size="9.5" text-anchor="middle" fill="#000" font-weight="bold">***</text>
<text x="253.80" y="508.50" font-size="7.8" text-anchor="middle" fill="#000" transform="rotate(-90 253.8 508.5)">MCP-1 in pg/ml</text>
<line x1="396.50" y1="478.60" x2="396.50" y2="547.20" stroke="#000" stroke-width="1.2"/>
<line x1="392.70" y1="478.60" x2="396.50" y2="478.60" stroke="#000" stroke-width="1.2"/>
<text x="391.90" y="481.44" font-size="7.9" text-anchor="end" fill="#000">0.10</text>
<line x1="392.70" y1="492.32" x2="396.50" y2="492.32" stroke="#000" stroke-width="1.2"/>
<text x="391.90" y="495.16" font-size="7.9" text-anchor="end" fill="#000">0.08</text>
<line x1="392.70" y1="506.04" x2="396.50" y2="506.04" stroke="#000" stroke-width="1.2"/>
<text x="391.90" y="508.88" font-size="7.9" text-anchor="end" fill="#000">0.06</text>
<line x1="392.70" y1="519.76" x2="396.50" y2="519.76" stroke="#000" stroke-width="1.2"/>
<text x="391.90" y="522.60" font-size="7.9" text-anchor="end" fill="#000">0.04</text>
<line x1="392.70" y1="533.48" x2="396.50" y2="533.48" stroke="#000" stroke-width="1.2"/>
<text x="391.90" y="536.32" font-size="7.9" text-anchor="end" fill="#000">0.02</text>
<line x1="392.70" y1="547.20" x2="396.50" y2="547.20" stroke="#000" stroke-width="1.2"/>
<text x="391.90" y="550.04" font-size="7.9" text-anchor="end" fill="#000">0.00</text>
<line x1="396.50" y1="547.20" x2="479.00" y2="547.20" stroke="#000" stroke-width="1.2"/>
<line x1="416.75" y1="491.80" x2="416.75" y2="486.30" stroke="#000" stroke-width="1.0"/>
<line x1="408.75" y1="486.30" x2="424.75" y2="486.30" stroke="#000" stroke-width="1.0"/>
<rect x="403.70" y="492.30" width="26.10" height="54.90" fill="#d2d2d2" stroke="#000" stroke-width="1.0"/>
<line x1="416.75" y1="547.20" x2="416.75" y2="549.20" stroke="#000" stroke-width="0.8"/>
<line x1="457.75" y1="519.60" x2="457.75" y2="515.90" stroke="#000" stroke-width="1.0"/>
<line x1="450.90" y1="515.90" x2="464.60" y2="515.90" stroke="#000" stroke-width="1.0"/>
<rect x="445.00" y="520.10" width="25.50" height="27.10" fill="#323232" stroke="#000" stroke-width="1.0"/>
<line x1="457.75" y1="547.20" x2="457.75" y2="549.20" stroke="#000" stroke-width="0.8"/>
<line x1="417.60" y1="479.40" x2="460.60" y2="479.40" stroke="#000" stroke-width="0.8"/>
<text x="439.10" y="478.51" font-size="9.5" text-anchor="middle" fill="#000" font-weight="bold">***</text>
<text x="372.40" y="512.20" font-size="7.8" text-anchor="middle" fill="#000" transform="rotate(-90 372.4 512.2)">PlGF/sFlt-1 ratio</text>
<text x="0.00" y="572.50" font-size="11.5" text-anchor="start" fill="#000" font-weight="bold">d</text>
<text x="251.70" y="576.40" font-size="7.8" text-anchor="middle" fill="#000">Angiokines of placental homogenates</text>
<rect x="117.90" y="587.50" width="9.80" height="6.70" fill="#d2d2d2" stroke="#555" stroke-width="0.8"/>
<text x="130.90" y="593.00" font-size="7.8" text-anchor="start" fill="#000">Non-immune</text>
<rect x="263.60" y="587.00" width="9.40" height="6.60" fill="#323232" stroke="#222" stroke-width="0.8"/>
<text x="276.10" y="592.80" font-size="7.8" text-anchor="start" fill="#000">Immune</text>
<line x1="41.70" y1="576.00" x2="41.70" y2="670.60" stroke="#000" stroke-width="1.3"/>
<line x1="38.30" y1="576.00" x2="41.70" y2="576.00" stroke="#000" stroke-width="1.2"/>
<text x="35.20" y="578.70" font-size="7.5" text-anchor="end" fill="#000">150</text>
<line x1="38.30" y1="607.53" x2="41.70" y2="607.53" stroke="#000" stroke-width="1.2"/>
<text x="35.20" y="610.23" font-size="7.5" text-anchor="end" fill="#000">100</text>
<line x1="38.30" y1="639.07" x2="41.70" y2="639.07" stroke="#000" stroke-width="1.2"/>
<text x="35.20" y="641.77" font-size="7.5" text-anchor="end" fill="#000">50</text>
<line x1="38.30" y1="670.60" x2="41.70" y2="670.60" stroke="#000" stroke-width="1.2"/>
<text x="35.20" y="673.30" font-size="7.5" text-anchor="end" fill="#000">0</text>
<line x1="41.70" y1="670.60" x2="467.00" y2="670.60" stroke="#000" stroke-width="1.3"/>
<text x="12.90" y="627.00" font-size="8.4" text-anchor="middle" fill="#000" transform="rotate(-90 12.9 627)">% of internal control</text>
<line x1="57.40" y1="623.20" x2="57.40" y2="621.00" stroke="#000" stroke-width="1.15"/>
<line x1="53.90" y1="621.00" x2="60.90" y2="621.00" stroke="#000" stroke-width="1.15"/>
<rect x="50.58" y="623.78" width="13.65" height="46.82" fill="#d2d2d2" stroke="#000" stroke-width="1.15"/>
<line x1="80.70" y1="630.10" x2="80.70" y2="629.40" stroke="#000" stroke-width="1.15"/>
<line x1="77.20" y1="629.40" x2="84.20" y2="629.40" stroke="#000" stroke-width="1.15"/>
<rect x="73.78" y="630.68" width="13.85" height="39.92" fill="#323232" stroke="#000" stroke-width="1.15"/>
<line x1="69.00" y1="670.60" x2="69.00" y2="673.10" stroke="#000" stroke-width="1.2"/>
<line x1="55.00" y1="616.90" x2="88.20" y2="616.90" stroke="#333" stroke-width="0.8"/>
<text x="71.60" y="616.01" font-size="9.5" text-anchor="middle" fill="#000" font-weight="bold">**</text>
<text x="68.20" y="683.10" font-size="7.8" text-anchor="middle" fill="#000">End-1</text>
<line x1="118.90" y1="634.30" x2="118.90" y2="629.20" stroke="#000" stroke-width="1.15"/>
<line x1="115.40" y1="629.20" x2="122.40" y2="629.20" stroke="#000" stroke-width="1.15"/>
<rect x="111.98" y="634.88" width="13.85" height="35.73" fill="#d2d2d2" stroke="#000" stroke-width="1.15"/>
<line x1="142.15" y1="642.00" x2="142.15" y2="640.10" stroke="#000" stroke-width="1.15"/>
<line x1="138.65" y1="640.10" x2="145.65" y2="640.10" stroke="#000" stroke-width="1.15"/>
<rect x="135.07" y="642.58" width="14.15" height="28.03" fill="#323232" stroke="#000" stroke-width="1.15"/>
<line x1="130.45" y1="670.60" x2="130.45" y2="673.10" stroke="#000" stroke-width="1.2"/>
<line x1="116.20" y1="624.90" x2="151.30" y2="624.90" stroke="#333" stroke-width="0.8"/>
<text x="133.75" y="624.01" font-size="9.5" text-anchor="middle" fill="#000" font-weight="bold">**</text>
<text x="129.60" y="683.10" font-size="7.8" text-anchor="middle" fill="#000">MMP-3</text>
<line x1="180.25" y1="659.70" x2="180.25" y2="659.00" stroke="#000" stroke-width="1.15"/>
<line x1="176.75" y1="659.00" x2="183.75" y2="659.00" stroke="#000" stroke-width="1.15"/>
<rect x="173.27" y="660.28" width="13.95" height="10.32" fill="#d2d2d2" stroke="#000" stroke-width="1.15"/>
<line x1="203.05" y1="664.70" x2="203.05" y2="663.30" stroke="#000" stroke-width="1.15"/>
<line x1="199.55" y1="663.30" x2="206.55" y2="663.30" stroke="#000" stroke-width="1.15"/>
<rect x="196.07" y="665.28" width="13.95" height="5.32" fill="#323232" stroke="#000" stroke-width="1.15"/>
<line x1="191.65" y1="670.60" x2="191.65" y2="673.10" stroke="#000" stroke-width="1.2"/>
<line x1="175.80" y1="652.00" x2="208.70" y2="652.00" stroke="#333" stroke-width="0.8"/>
<text x="192.25" y="651.80" font-size="8" text-anchor="middle" fill="#000" font-weight="bold">*</text>
<text x="191.40" y="683.10" font-size="7.8" text-anchor="middle" fill="#000">FGFa</text>
<line x1="240.95" y1="664.00" x2="240.95" y2="663.30" stroke="#000" stroke-width="1.15"/>
<line x1="237.45" y1="663.30" x2="244.45" y2="663.30" stroke="#000" stroke-width="1.15"/>
<rect x="234.67" y="664.58" width="12.55" height="6.03" fill="#d2d2d2" stroke="#000" stroke-width="1.15"/>
<line x1="264.60" y1="668.80" x2="264.60" y2="668.20" stroke="#000" stroke-width="1.15"/>
<line x1="261.10" y1="668.20" x2="268.10" y2="668.20" stroke="#000" stroke-width="1.15"/>
<rect x="257.97" y="669.38" width="13.25" height="1.23" fill="#323232" stroke="#000" stroke-width="1.15"/>
<line x1="252.60" y1="670.60" x2="252.60" y2="673.10" stroke="#000" stroke-width="1.2"/>
<line x1="238.20" y1="658.00" x2="269.40" y2="658.00" stroke="#333" stroke-width="0.8"/>
<text x="253.80" y="657.10" font-size="8" text-anchor="middle" fill="#000" font-weight="bold">*</text>
<text x="252.60" y="683.10" font-size="7.8" text-anchor="middle" fill="#000">VEGF</text>
<line x1="303.00" y1="663.70" x2="303.00" y2="662.50" stroke="#000" stroke-width="1.15"/>
<line x1="299.50" y1="662.50" x2="306.50" y2="662.50" stroke="#000" stroke-width="1.15"/>
<rect x="295.68" y="664.28" width="14.65" height="6.32" fill="#d2d2d2" stroke="#000" stroke-width="1.15"/>
<line x1="326.15" y1="660.60" x2="326.15" y2="660.00" stroke="#000" stroke-width="1.15"/>
<line x1="322.65" y1="660.00" x2="329.65" y2="660.00" stroke="#000" stroke-width="1.15"/>
<rect x="319.18" y="661.18" width="13.95" height="9.43" fill="#323232" stroke="#000" stroke-width="1.15"/>
<line x1="314.75" y1="670.60" x2="314.75" y2="673.10" stroke="#000" stroke-width="1.2"/>
<line x1="299.40" y1="653.90" x2="330.60" y2="653.90" stroke="#333" stroke-width="0.8"/>
<text x="315.00" y="653.20" font-size="8" text-anchor="middle" fill="#000" font-weight="bold">*</text>
<text x="314.20" y="683.10" font-size="7.8" text-anchor="middle" fill="#000">TPS-2</text>
<line x1="364.20" y1="645.50" x2="364.20" y2="641.40" stroke="#000" stroke-width="1.15"/>
<line x1="360.70" y1="641.40" x2="367.70" y2="641.40" stroke="#000" stroke-width="1.15"/>
<rect x="357.57" y="646.08" width="13.25" height="24.53" fill="#d2d2d2" stroke="#000" stroke-width="1.15"/>
<line x1="387.40" y1="637.10" x2="387.40" y2="635.40" stroke="#000" stroke-width="1.15"/>
<line x1="383.90" y1="635.40" x2="390.90" y2="635.40" stroke="#000" stroke-width="1.15"/>
<rect x="380.38" y="637.68" width="14.05" height="32.92" fill="#323232" stroke="#000" stroke-width="1.15"/>
<line x1="375.60" y1="670.60" x2="375.60" y2="673.10" stroke="#000" stroke-width="1.2"/>
<line x1="358.20" y1="630.60" x2="390.60" y2="630.60" stroke="#333" stroke-width="0.8"/>
<text x="374.40" y="630.21" font-size="9.5" text-anchor="middle" fill="#000" font-weight="bold">**</text>
<text x="375.60" y="683.10" font-size="7.8" text-anchor="middle" fill="#000">Eng</text>
<line x1="425.60" y1="660.10" x2="425.60" y2="659.00" stroke="#000" stroke-width="1.15"/>
<line x1="422.10" y1="659.00" x2="429.10" y2="659.00" stroke="#000" stroke-width="1.15"/>
<rect x="418.97" y="660.68" width="13.25" height="9.93" fill="#d2d2d2" stroke="#000" stroke-width="1.15"/>
<line x1="448.80" y1="598.00" x2="448.80" y2="596.00" stroke="#000" stroke-width="1.15"/>
<line x1="445.30" y1="596.00" x2="452.30" y2="596.00" stroke="#000" stroke-width="1.15"/>
<rect x="442.07" y="598.58" width="13.45" height="72.03" fill="#323232" stroke="#000" stroke-width="1.15"/>
<line x1="437.15" y1="670.60" x2="437.15" y2="673.10" stroke="#000" stroke-width="1.2"/>
<line x1="415.20" y1="590.30" x2="445.70" y2="590.30" stroke="#333" stroke-width="0.8"/>
<text x="430.45" y="590.51" font-size="9.5" text-anchor="middle" fill="#000" font-weight="bold">***</text>
<text x="436.50" y="683.10" font-size="7.8" text-anchor="middle" fill="#000">MCP-1</text>
</svg></body></html>
